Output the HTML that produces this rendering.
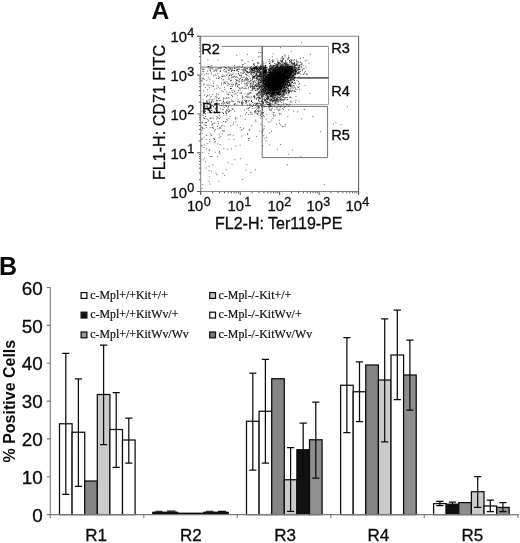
<!DOCTYPE html>
<html lang="en"><head><meta charset="utf-8"><title>Figure</title>
<style>html,body{margin:0;padding:0;background:#fff}svg{display:block}</style></head>
<body>
<svg width="520" height="543" viewBox="0 0 520 543">
<rect width="520" height="543" fill="#fff"/>
<g font-family="'Liberation Sans', Arial, sans-serif" fill="#0a0a0a" stroke="#0a0a0a" stroke-width=".3">
<text x="151.6" y="19" font-size="24.6" font-weight="bold" stroke="none">A</text>
<text x="-0.9" y="274.6" font-size="25" font-weight="bold" stroke="none">B</text>
<g stroke-width="1" fill="none">
<path d="M221.5 46.3H328.6" stroke="#7c7c7c"/>
<path d="M328.5 46.3V104.6" stroke="#a2a2a2"/>
<path d="M262.2 104.6H328.8" stroke="#a6a6a6"/>
<path d="M262.2 77.8H328.4" stroke="#585858" stroke-width="1.2"/>
<path d="M262.2 106.4H327.6V157.6H262.2Z" stroke="#727272"/>
<path d="M200.7 67.2H262.2" stroke="#7c7c7c"/>
<path d="M219 105.4H262.2" stroke="#9a9a9a"/>
</g>
<path d="M276.9 83.0h.9M270.9 77.2h.9M271.0 75.6h.9M282.9 86.7h.9M273.4 76.5h.9M275.4 86.7h.9M269.2 79.8h.9M279.4 84.0h.9M277.6 70.9h.9M274.8 64.2h.9M280.9 68.0h.9M281.6 73.7h.9M273.4 82.5h.9M281.7 62.2h.9M276.0 82.0h.9M278.2 69.5h.9M274.1 72.4h.9M266.3 87.1h.9M280.5 84.6h.9M276.7 77.4h.9M275.1 83.0h.9M280.3 73.4h.9M260.7 86.9h.9M272.5 88.6h.9M289.5 83.7h.9M265.1 83.7h.9M278.3 84.4h.9M279.9 82.8h.9M279.4 83.6h.9M265.6 90.2h.9M271.6 82.0h.9M267.6 79.2h.9M276.2 77.2h.9M278.5 92.1h.9M275.5 69.9h.9M260.8 80.3h.9M276.4 78.4h.9M274.4 93.2h.9M274.2 78.5h.9M285.1 85.0h.9M275.0 78.0h.9M273.1 84.2h.9M269.3 77.0h.9M272.6 80.5h.9M274.5 92.5h.9M279.2 83.9h.9M282.7 82.9h.9M278.6 83.8h.9M282.2 73.8h.9M269.6 63.4h.9M271.0 77.0h.9M287.8 90.3h.9M274.7 74.0h.9M277.3 85.0h.9M274.6 80.1h.9M275.5 88.7h.9M278.7 74.3h.9M268.8 78.9h.9M269.1 81.2h.9M272.5 89.6h.9M271.3 80.8h.9M263.8 74.8h.9M281.7 75.0h.9M288.4 69.3h.9M286.4 71.8h.9M283.0 78.4h.9M265.5 78.1h.9M278.9 95.6h.9M273.8 80.7h.9M270.0 77.8h.9M267.7 88.2h.9M270.6 79.1h.9M270.0 73.4h.9M269.4 90.6h.9M271.5 89.0h.9M275.9 76.0h.9M277.4 78.0h.9M274.8 78.3h.9M275.7 69.5h.9M264.8 91.8h.9M281.2 75.5h.9M261.1 87.5h.9M272.2 78.5h.9M286.3 71.6h.9M275.7 82.1h.9M280.7 78.0h.9M276.4 77.7h.9M272.2 70.2h.9M267.0 90.0h.9M273.8 84.0h.9M273.8 77.2h.9M270.9 85.6h.9M275.9 81.0h.9M274.6 92.6h.9M270.3 83.0h.9M286.1 75.1h.9M270.6 88.5h.9M277.7 88.4h.9M277.4 90.9h.9M285.9 83.5h.9M285.1 75.7h.9M278.4 88.3h.9M276.7 100.3h.9M269.6 68.4h.9M266.0 84.7h.9M280.2 84.6h.9M269.0 63.5h.9M274.4 84.0h.9M276.3 80.4h.9M269.5 71.0h.9M270.0 77.7h.9M284.5 71.8h.9M277.8 82.8h.9M275.1 72.8h.9M273.7 72.0h.9M269.8 80.9h.9M275.8 85.6h.9M259.1 92.2h.9M271.2 88.1h.9M266.6 77.3h.9M281.3 81.0h.9M275.9 81.7h.9M283.1 83.6h.9M262.2 74.9h.9M266.2 70.8h.9M284.5 56.9h.9M270.3 91.8h.9M274.1 70.6h.9M271.7 90.6h.9M274.6 82.2h.9M279.8 84.8h.9M274.3 86.7h.9M282.2 76.1h.9M284.3 80.5h.9M279.2 72.4h.9M267.3 77.7h.9M277.2 99.0h.9M281.5 81.1h.9M258.2 76.4h.9M273.8 83.6h.9M268.4 79.2h.9M275.1 79.5h.9M272.5 91.6h.9M284.2 86.8h.9M275.0 76.8h.9M291.5 73.9h.9M276.9 91.9h.9M273.2 87.2h.9M272.8 82.8h.9M276.3 80.7h.9M272.6 94.7h.9M271.9 79.7h.9M287.1 82.5h.9M273.6 85.9h.9M269.9 76.0h.9M280.6 84.3h.9M275.3 78.5h.9M276.7 80.8h.9M279.9 69.8h.9M283.7 78.6h.9M281.5 78.3h.9M267.4 92.0h.9M278.6 78.3h.9M269.3 78.8h.9M285.3 91.7h.9M274.9 79.5h.9M281.1 75.5h.9M273.4 69.5h.9M264.8 88.4h.9M280.0 94.6h.9M277.4 85.6h.9M266.5 95.4h.9M269.4 73.4h.9M283.8 87.0h.9M265.9 85.9h.9M275.5 74.2h.9M272.8 83.5h.9M276.1 84.5h.9M276.1 79.7h.9M273.9 83.2h.9M284.3 91.6h.9M273.2 86.4h.9M284.0 71.1h.9M274.3 63.5h.9M276.0 90.4h.9M265.6 75.5h.9M272.6 77.2h.9M286.1 93.8h.9M269.7 81.1h.9M279.3 73.4h.9M269.0 77.1h.9M267.9 79.2h.9M277.2 93.4h.9M268.2 88.3h.9M272.4 85.3h.9M274.6 78.1h.9M271.6 68.1h.9M271.0 87.1h.9M280.3 86.7h.9M277.2 67.0h.9M276.8 84.5h.9M282.7 82.5h.9M267.1 79.7h.9M283.5 77.8h.9M262.1 79.3h.9M273.5 93.6h.9M267.7 90.5h.9M269.6 76.3h.9M264.3 99.7h.9M265.2 91.4h.9M264.6 77.9h.9M282.5 82.4h.9M286.3 76.4h.9M267.7 81.1h.9M274.4 76.9h.9M272.2 79.9h.9M276.5 75.1h.9M271.5 70.5h.9M280.6 84.5h.9M281.1 71.0h.9M271.9 74.2h.9M268.8 86.5h.9M264.7 90.3h.9M272.3 84.1h.9M281.5 78.4h.9M279.3 82.8h.9M268.9 78.2h.9M275.9 81.4h.9M266.1 86.0h.9M265.1 76.3h.9M266.2 83.3h.9M281.8 68.8h.9M261.9 85.1h.9M274.9 71.8h.9M281.8 75.1h.9M274.0 73.9h.9M268.4 83.8h.9M267.7 82.0h.9M268.9 67.4h.9M266.1 94.4h.9M274.0 83.7h.9M274.8 83.3h.9M261.6 92.5h.9M275.2 67.6h.9M284.7 74.8h.9M266.3 84.9h.9M278.4 70.9h.9M253.1 83.1h.9M266.7 82.4h.9M264.7 86.1h.9M267.3 75.2h.9M287.1 79.4h.9M269.6 86.6h.9M267.3 69.7h.9M276.5 79.1h.9M274.9 81.1h.9M279.1 73.7h.9M282.9 85.8h.9M267.1 95.0h.9M277.7 76.3h.9M273.1 75.3h.9M269.2 78.3h.9M272.2 86.0h.9M273.1 83.2h.9M272.3 73.8h.9M272.8 78.5h.9M274.2 83.7h.9M280.8 72.4h.9M276.7 70.4h.9M264.0 73.3h.9M275.7 83.1h.9M273.2 79.5h.9M270.8 76.2h.9M272.9 78.3h.9M267.7 78.8h.9M275.1 84.2h.9M273.1 79.6h.9M263.2 80.7h.9M274.8 86.1h.9M276.3 85.3h.9M276.1 76.5h.9M275.2 88.0h.9M265.4 78.7h.9M280.0 89.6h.9M272.6 90.0h.9M286.7 73.8h.9M260.7 72.9h.9M264.9 80.0h.9M276.4 70.6h.9M268.0 90.0h.9M284.5 89.5h.9M268.4 93.2h.9M268.6 76.3h.9M280.3 78.3h.9M274.3 85.2h.9M266.7 86.7h.9M279.7 83.9h.9M279.2 89.6h.9M271.8 83.9h.9M267.8 81.4h.9M284.9 72.0h.9M277.2 82.6h.9M279.5 68.6h.9M272.3 74.9h.9M281.9 64.7h.9M273.9 89.7h.9M277.4 77.6h.9M255.9 78.7h.9M278.8 82.8h.9M282.6 92.3h.9M272.6 91.2h.9M278.6 86.7h.9M277.0 78.0h.9M283.3 94.7h.9M275.5 80.7h.9M282.3 87.7h.9M284.0 86.4h.9M277.8 74.4h.9M280.6 83.1h.9M262.2 84.7h.9M280.7 76.5h.9M268.7 72.4h.9M274.1 91.1h.9M270.4 84.0h.9M269.8 88.7h.9M265.5 87.0h.9M279.7 76.5h.9M281.9 79.1h.9M268.7 80.9h.9M272.8 81.4h.9M267.9 86.6h.9M284.0 82.7h.9M278.4 104.5h.9M276.2 83.1h.9M268.5 92.7h.9M279.6 75.3h.9M268.5 82.6h.9M273.0 65.6h.9M268.1 84.4h.9M277.0 81.7h.9M270.8 85.4h.9M268.0 82.8h.9M270.5 76.1h.9M270.6 90.1h.9M275.9 75.6h.9M280.2 82.6h.9M275.2 67.2h.9M291.6 87.3h.9M270.8 88.5h.9M284.6 93.7h.9M273.9 79.2h.9M273.4 92.3h.9M269.5 85.2h.9M277.9 101.3h.9M277.0 88.2h.9M286.7 69.4h.9M278.5 82.0h.9M270.5 85.8h.9M283.9 71.0h.9M276.1 75.6h.9M275.5 76.6h.9M291.3 69.2h.9M280.8 87.4h.9M267.6 96.3h.9M276.8 66.2h.9M276.8 71.7h.9M263.0 76.2h.9M264.9 79.7h.9M273.4 83.8h.9M275.9 79.5h.9M273.6 76.2h.9M281.5 69.8h.9M279.8 101.6h.9M274.2 93.8h.9M286.3 81.7h.9M275.0 81.4h.9M276.8 80.2h.9M276.3 78.6h.9M277.1 73.0h.9M265.9 98.2h.9M279.2 82.0h.9M265.8 83.6h.9M281.4 83.4h.9M274.8 84.3h.9M265.1 91.0h.9M271.7 80.9h.9M257.8 86.5h.9M274.6 75.5h.9M276.2 88.7h.9M260.4 87.1h.9M270.5 86.5h.9M280.9 78.9h.9M266.4 68.8h.9M267.7 74.6h.9M279.9 78.5h.9M283.4 89.3h.9M266.8 75.7h.9M272.6 73.6h.9M282.4 74.6h.9M265.9 71.1h.9M271.8 86.7h.9M274.4 84.9h.9M272.9 86.7h.9M272.9 92.3h.9M276.1 86.1h.9M279.8 71.0h.9M277.4 80.8h.9M290.1 77.4h.9M267.6 78.9h.9M280.1 68.8h.9M271.2 79.1h.9M271.0 80.6h.9M268.7 83.7h.9M281.1 84.8h.9M259.3 97.3h.9M272.0 76.0h.9M265.3 84.0h.9M276.8 78.4h.9M273.3 71.9h.9M264.5 71.9h.9M278.3 70.3h.9M273.5 82.5h.9M279.2 67.7h.9M275.4 89.5h.9M270.2 78.6h.9M269.3 84.7h.9M274.9 71.0h.9M270.9 93.1h.9M267.8 88.8h.9M268.0 86.9h.9M290.5 88.8h.9M269.2 85.9h.9M277.4 82.4h.9M267.6 89.2h.9M280.2 68.6h.9M275.7 82.5h.9M271.9 92.5h.9M265.5 84.4h.9M284.2 94.9h.9M273.7 88.4h.9M285.1 88.8h.9M278.1 75.0h.9M277.8 87.7h.9M278.7 79.8h.9M276.9 80.4h.9M268.9 77.4h.9M280.4 84.6h.9M277.5 74.3h.9M266.2 83.4h.9M268.2 80.0h.9M284.5 97.5h.9M266.1 95.9h.9M273.0 87.7h.9M283.9 87.6h.9M286.5 75.8h.9M283.7 86.1h.9M270.4 81.2h.9M278.4 86.3h.9M277.9 83.8h.9M264.5 71.5h.9M275.8 90.7h.9M275.0 83.3h.9M268.4 88.0h.9M276.8 76.3h.9M262.3 86.2h.9M266.8 88.6h.9M286.9 78.1h.9M267.8 77.2h.9M282.1 82.4h.9M268.0 89.2h.9M277.8 87.2h.9M279.7 78.5h.9M272.1 80.1h.9M277.4 78.7h.9M271.7 80.4h.9M283.4 82.5h.9M279.6 86.3h.9M274.0 92.5h.9M261.5 95.7h.9M270.1 86.8h.9M278.1 100.8h.9M276.9 64.8h.9M277.3 89.3h.9M271.9 87.1h.9M277.3 87.4h.9M281.5 84.7h.9M287.6 67.7h.9M284.8 77.6h.9M270.8 77.5h.9M268.3 81.8h.9M269.4 70.5h.9M278.2 83.4h.9M270.4 88.9h.9M271.2 89.6h.9M278.9 83.1h.9M269.0 88.5h.9M275.1 79.7h.9M269.5 79.7h.9M268.8 88.1h.9M268.5 82.7h.9M276.1 85.8h.9M288.7 85.4h.9M284.2 90.3h.9M267.5 86.8h.9M279.2 80.6h.9M275.2 82.6h.9M265.5 74.2h.9M262.9 73.3h.9M269.4 82.4h.9M276.6 76.1h.9M265.6 79.4h.9M275.6 66.0h.9M277.3 64.2h.9M262.8 90.1h.9M264.5 82.3h.9M272.1 83.1h.9M278.8 83.4h.9M269.5 95.3h.9M268.9 79.8h.9M271.4 85.4h.9M271.7 87.9h.9M256.7 88.3h.9M281.5 82.7h.9M271.8 77.0h.9M268.0 75.7h.9M289.2 90.6h.9M264.2 86.7h.9M276.1 74.4h.9M266.4 86.6h.9M283.1 79.8h.9M269.6 87.0h.9M270.3 69.0h.9M264.6 69.9h.9M268.5 85.4h.9M284.4 91.4h.9M263.8 86.8h.9M278.7 91.9h.9M272.4 73.6h.9M266.1 76.1h.9M255.2 85.0h.9M277.8 73.2h.9M277.0 80.9h.9M272.8 83.3h.9M258.1 83.4h.9M270.9 79.7h.9M275.9 83.7h.9M274.9 73.4h.9M274.2 88.8h.9M289.9 83.6h.9M257.6 94.0h.9M288.9 92.1h.9M273.4 88.4h.9M272.7 78.8h.9M272.7 78.7h.9M269.9 86.1h.9M269.7 75.0h.9M270.0 78.8h.9M282.0 84.0h.9M276.7 86.2h.9M274.1 84.8h.9M273.8 80.1h.9M265.8 84.0h.9M270.2 91.8h.9M275.1 75.1h.9M278.7 77.6h.9M284.7 80.4h.9M264.7 69.2h.9M266.1 70.4h.9M281.6 85.1h.9M264.7 82.4h.9M288.6 82.1h.9M273.9 84.3h.9M285.6 97.4h.9M271.0 91.8h.9M277.4 86.5h.9M271.2 74.2h.9M269.3 79.4h.9M276.0 81.9h.9M261.1 96.2h.9M274.6 80.6h.9M279.7 88.5h.9M272.2 75.9h.9M276.0 67.2h.9M273.4 86.0h.9M276.9 73.5h.9M278.0 83.8h.9M276.0 76.9h.9M275.3 65.2h.9M255.9 86.7h.9M277.8 80.3h.9M271.8 76.7h.9M275.4 81.5h.9M264.3 75.5h.9M270.7 78.2h.9M278.6 78.8h.9M278.0 89.5h.9M282.5 81.4h.9M277.4 94.1h.9M268.9 91.6h.9M280.7 83.4h.9M281.7 72.8h.9M275.0 77.0h.9M276.6 66.6h.9M280.5 84.7h.9M270.9 88.9h.9M271.0 78.0h.9M272.1 84.1h.9M283.2 91.9h.9M266.4 77.0h.9M269.8 71.2h.9M287.5 77.5h.9M265.3 78.8h.9M280.1 90.7h.9M272.5 77.3h.9M278.1 80.5h.9M279.7 90.4h.9M277.5 94.5h.9M273.8 93.9h.9M280.3 70.6h.9M271.7 83.0h.9M269.5 87.4h.9M287.3 79.9h.9M273.9 87.5h.9M277.9 92.0h.9M259.3 76.7h.9M275.0 75.7h.9M280.1 75.5h.9M267.7 89.1h.9M291.5 80.3h.9M269.6 74.8h.9M276.8 85.1h.9M282.6 79.4h.9M271.6 75.6h.9M279.0 85.7h.9M279.6 78.5h.9M292.2 90.3h.9M286.1 81.3h.9M274.6 81.2h.9M277.7 90.0h.9M272.2 92.2h.9M274.3 76.0h.9M276.6 87.5h.9M272.2 93.4h.9M280.1 94.5h.9M265.7 78.5h.9M271.2 68.9h.9M264.0 90.8h.9M273.9 92.7h.9M274.5 97.5h.9M274.4 80.6h.9M275.9 83.2h.9M277.0 78.1h.9M258.9 88.2h.9M268.8 81.0h.9M279.4 86.0h.9M280.0 84.0h.9M287.8 74.1h.9M281.2 79.6h.9M259.1 75.1h.9M279.4 77.3h.9M270.9 94.1h.9M265.8 79.4h.9M280.3 98.0h.9M273.7 81.5h.9M286.6 73.1h.9M269.0 103.7h.9M273.5 92.8h.9M286.9 79.1h.9M278.7 72.4h.9M279.3 86.8h.9M275.8 86.2h.9M270.4 72.4h.9M270.7 80.2h.9M272.7 68.6h.9M266.1 72.6h.9M270.7 67.1h.9M276.9 84.6h.9M258.5 91.7h.9M283.2 80.0h.9M274.0 79.4h.9M266.6 93.2h.9M271.8 69.5h.9M275.7 85.4h.9M274.6 69.0h.9M276.5 87.7h.9M281.3 79.3h.9M262.4 80.5h.9M278.8 81.1h.9M264.7 71.1h.9M280.7 82.3h.9M256.1 86.4h.9M258.4 97.3h.9M278.8 92.8h.9M272.2 89.6h.9M283.3 75.6h.9M263.0 68.8h.9M268.4 104.6h.9M262.7 92.2h.9M278.9 97.6h.9M269.0 93.1h.9M278.7 72.8h.9M273.6 60.7h.9M268.9 79.5h.9M275.1 80.5h.9M275.4 100.0h.9M282.5 85.5h.9M276.2 75.3h.9M264.3 84.6h.9M268.4 75.8h.9M284.4 88.0h.9M279.4 77.3h.9M271.8 71.9h.9M288.5 77.7h.9M268.9 100.6h.9M282.1 79.1h.9M281.2 82.1h.9M275.7 85.0h.9M269.4 84.5h.9M266.5 73.6h.9M268.4 74.3h.9M270.0 77.9h.9M277.4 84.2h.9M275.8 69.2h.9M283.2 77.6h.9M273.6 97.0h.9M285.2 84.1h.9M289.9 75.8h.9M261.2 68.5h.9M274.3 106.1h.9M280.1 75.1h.9M276.6 80.8h.9M276.8 69.1h.9M274.7 86.1h.9M271.0 90.9h.9M261.8 96.7h.9M262.8 77.8h.9M287.9 77.2h.9M281.9 76.9h.9M269.2 78.2h.9M273.4 77.9h.9M281.5 80.9h.9M269.2 84.9h.9M280.3 76.4h.9M281.6 84.5h.9M269.9 103.8h.9M274.3 81.2h.9M273.1 73.0h.9M276.7 73.5h.9M281.2 81.3h.9M275.5 78.5h.9M289.6 78.4h.9M283.8 91.3h.9M280.9 92.5h.9M280.4 82.5h.9M257.5 97.6h.9M280.7 95.9h.9M278.1 87.5h.9M266.2 89.1h.9M268.3 82.2h.9M274.1 75.0h.9M276.6 81.4h.9M264.8 80.7h.9M274.3 100.4h.9M270.1 86.2h.9M278.8 83.1h.9M263.3 79.6h.9M289.9 97.0h.9M288.5 71.6h.9M273.0 84.4h.9M262.5 88.3h.9M283.4 88.0h.9M273.4 79.2h.9M272.0 81.4h.9M263.5 90.5h.9M264.1 84.4h.9M271.9 86.6h.9M285.4 62.8h.9M276.7 72.6h.9M262.2 89.8h.9M288.1 78.8h.9M284.1 87.9h.9M268.5 81.5h.9M282.9 85.5h.9M271.4 89.0h.9M274.3 82.0h.9M289.2 84.0h.9M268.2 78.4h.9M281.5 80.8h.9M271.8 86.3h.9M277.9 77.1h.9M273.9 65.4h.9M269.1 86.4h.9M281.1 88.8h.9M272.7 86.9h.9M270.8 99.9h.9M281.0 81.8h.9M268.3 82.2h.9M273.9 82.0h.9M281.9 66.9h.9M273.6 78.5h.9M279.5 68.7h.9M275.9 82.0h.9M283.5 75.6h.9M278.6 72.3h.9M265.8 89.4h.9M283.7 81.7h.9M274.9 78.2h.9M280.7 87.1h.9M278.8 63.0h.9M272.5 71.0h.9M273.4 72.9h.9M268.6 81.3h.9M277.1 84.2h.9M278.8 77.0h.9M270.6 95.1h.9M277.3 77.1h.9M280.4 76.1h.9M266.8 85.7h.9M282.7 84.1h.9M278.2 78.9h.9M274.2 71.8h.9M290.1 85.1h.9M273.6 77.4h.9M276.3 77.4h.9M273.7 87.3h.9M268.5 97.5h.9M271.2 93.3h.9M264.3 81.8h.9M275.2 80.9h.9M263.3 73.4h.9M269.5 87.1h.9M275.3 78.0h.9M278.4 81.6h.9M274.5 69.9h.9M274.9 84.6h.9M273.2 77.5h.9M278.0 75.8h.9M264.3 87.2h.9M274.3 95.7h.9M281.5 81.2h.9M270.5 65.9h.9M277.7 71.4h.9M273.4 78.0h.9M262.1 75.9h.9M264.8 81.1h.9M275.3 75.9h.9M271.5 69.3h.9M279.0 74.7h.9M276.2 88.0h.9M274.3 72.3h.9M281.4 76.8h.9M290.3 71.2h.9M272.4 76.0h.9M280.0 87.7h.9M280.1 87.8h.9M281.9 86.9h.9M269.8 90.7h.9M270.6 92.9h.9M269.4 79.7h.9M280.9 82.4h.9M284.1 74.6h.9M275.5 85.4h.9M283.0 65.8h.9M268.1 84.3h.9M260.7 75.1h.9M268.6 84.7h.9M260.9 82.4h.9M271.1 86.2h.9M266.5 84.9h.9M290.8 84.7h.9M274.2 73.8h.9M270.2 76.8h.9M280.8 96.1h.9M267.6 71.5h.9M277.2 94.0h.9M278.8 91.6h.9M277.5 75.2h.9M272.1 67.5h.9M267.4 86.9h.9M266.8 98.7h.9M282.3 79.9h.9M271.1 96.5h.9M282.0 74.4h.9M266.9 90.3h.9M284.2 79.6h.9M268.1 79.5h.9M272.1 76.9h.9M274.7 84.5h.9M274.9 92.5h.9M283.6 72.0h.9M274.4 89.9h.9M267.9 87.7h.9M284.3 78.1h.9M266.5 67.5h.9M266.9 87.1h.9M268.0 75.4h.9M273.4 68.8h.9M278.7 80.6h.9M288.5 67.8h.9M273.4 70.1h.9M272.1 86.6h.9M292.0 76.8h.9M279.9 76.6h.9M282.7 87.9h.9M282.9 81.9h.9M284.7 80.2h.9M275.9 75.4h.9M269.7 96.7h.9M288.0 89.9h.9M268.9 82.0h.9M265.3 83.5h.9M277.9 94.0h.9M273.6 75.9h.9M274.6 83.3h.9M282.3 76.8h.9M280.5 65.9h.9M275.1 78.2h.9M266.7 80.3h.9M271.8 85.7h.9M269.6 73.0h.9M281.8 74.6h.9M279.2 75.3h.9M277.2 92.9h.9M267.4 92.3h.9M285.4 77.4h.9M280.6 87.8h.9M282.2 85.9h.9M276.1 90.4h.9M275.6 86.9h.9M275.6 84.4h.9M268.3 87.5h.9M267.8 94.2h.9M270.8 88.8h.9M288.1 86.7h.9M268.8 75.7h.9M276.0 75.8h.9M268.1 98.2h.9M265.6 85.6h.9M277.8 86.7h.9M264.1 92.8h.9M274.6 87.3h.9M279.0 74.6h.9M262.4 72.7h.9M276.0 88.0h.9M268.9 74.6h.9M271.0 93.5h.9M279.6 93.8h.9M282.0 80.8h.9M275.7 80.1h.9M275.5 81.4h.9M271.6 90.4h.9M274.1 80.0h.9M268.5 81.6h.9M276.8 78.2h.9M276.6 77.5h.9M289.4 84.0h.9M272.7 93.0h.9M288.3 88.6h.9M273.4 84.1h.9M275.8 85.2h.9M269.6 92.1h.9M261.8 94.3h.9M266.5 83.8h.9M266.2 94.0h.9M280.9 84.5h.9M263.7 87.5h.9M268.2 75.1h.9M274.0 82.7h.9M272.4 77.3h.9M272.2 76.9h.9M282.1 90.6h.9M281.9 67.7h.9M279.7 80.5h.9M278.0 74.7h.9M283.3 76.7h.9M273.8 82.2h.9M272.3 83.9h.9M284.7 72.7h.9M273.1 83.6h.9M278.6 93.0h.9M274.7 71.7h.9M277.6 97.7h.9M271.0 72.9h.9M274.7 75.8h.9M281.4 70.7h.9M272.9 68.9h.9M267.6 86.4h.9M279.2 83.5h.9M270.0 86.8h.9M270.1 79.7h.9M272.3 96.7h.9M279.4 74.1h.9M275.2 88.7h.9M276.2 99.5h.9M276.7 77.8h.9M281.6 73.6h.9M290.6 91.7h.9M262.4 76.1h.9M278.4 77.5h.9M274.9 70.2h.9M278.6 80.4h.9M270.5 78.0h.9M268.9 86.0h.9M268.9 74.0h.9M282.0 78.4h.9M281.0 70.1h.9M270.1 86.0h.9M267.6 80.2h.9M276.6 94.9h.9M263.8 78.1h.9M285.0 77.6h.9M270.3 95.3h.9M266.7 89.1h.9M275.9 80.6h.9M264.5 80.2h.9M279.4 93.0h.9M271.5 69.4h.9M269.9 82.5h.9M289.1 67.5h.9M271.7 81.6h.9M267.8 97.7h.9M278.7 76.9h.9M274.6 72.1h.9M270.4 83.0h.9M286.8 84.0h.9M276.6 90.7h.9M276.0 87.3h.9M269.4 92.4h.9M262.4 92.4h.9M268.0 75.8h.9M279.5 81.2h.9M265.6 90.4h.9M273.0 80.9h.9M270.9 72.9h.9M264.7 76.9h.9M274.8 82.9h.9M271.7 74.1h.9M291.6 78.0h.9M289.6 77.3h.9M270.7 85.2h.9M285.8 77.0h.9M262.9 91.5h.9M282.5 83.2h.9M285.7 90.8h.9M280.6 79.6h.9M292.4 79.6h.9M264.9 69.7h.9M274.8 80.7h.9M265.8 94.7h.9M278.7 83.8h.9M268.7 93.2h.9M274.2 91.1h.9M276.8 80.1h.9M269.6 79.3h.9M262.3 86.4h.9M276.3 93.5h.9M271.0 78.9h.9M278.8 81.9h.9M274.0 88.3h.9M268.0 87.4h.9M265.0 78.7h.9M273.1 88.0h.9M283.6 82.7h.9M255.8 78.1h.9M266.4 77.7h.9M285.8 97.6h.9M277.6 78.5h.9M278.2 81.3h.9M280.3 90.7h.9M288.3 79.9h.9M280.4 76.2h.9M274.9 92.6h.9M274.6 73.0h.9M276.6 78.5h.9M263.1 86.2h.9M277.0 87.3h.9M275.8 87.5h.9M272.2 94.5h.9M275.2 90.0h.9M257.0 88.9h.9M268.7 90.4h.9M270.5 76.9h.9M280.1 67.3h.9M280.7 78.6h.9M289.3 75.9h.9M272.6 83.2h.9M273.2 74.4h.9M276.3 72.1h.9M274.1 81.5h.9M279.0 71.0h.9M279.5 76.1h.9M271.7 97.4h.9M266.7 74.6h.9M270.6 66.5h.9M267.8 84.8h.9M271.2 80.5h.9M283.1 87.1h.9M275.8 76.0h.9M283.4 79.0h.9M272.4 71.0h.9M272.2 67.5h.9M288.6 93.5h.9M284.6 77.8h.9M267.7 80.3h.9M274.8 79.3h.9M289.3 83.1h.9M284.8 69.5h.9M270.4 82.6h.9M279.8 85.9h.9M277.0 84.4h.9M260.4 80.5h.9M283.0 99.9h.9M277.4 92.3h.9M279.9 71.5h.9M274.8 74.3h.9M266.7 86.4h.9M264.3 75.0h.9M276.3 81.1h.9M273.6 74.6h.9M260.7 91.8h.9M274.4 71.9h.9M283.0 97.3h.9M269.6 82.1h.9M283.1 82.3h.9M287.3 80.0h.9M270.1 92.4h.9M277.1 89.0h.9M262.9 89.9h.9M268.4 89.3h.9M278.7 76.8h.9M270.1 77.3h.9M275.7 67.5h.9M281.2 98.7h.9M279.7 90.4h.9M276.7 78.0h.9M267.7 80.6h.9M279.5 75.2h.9M270.1 76.3h.9M272.1 84.0h.9M271.2 89.3h.9M277.1 80.2h.9M271.9 78.6h.9M281.1 81.5h.9M280.3 90.7h.9M279.4 68.6h.9M277.8 79.6h.9M273.9 77.1h.9M273.2 88.2h.9M287.6 77.8h.9M267.9 87.4h.9M267.6 85.7h.9M269.5 89.4h.9M276.0 75.0h.9M279.2 77.1h.9M274.7 83.4h.9M255.6 66.4h.9M263.6 76.7h.9M280.9 87.3h.9M271.8 82.7h.9M275.1 80.3h.9M273.8 76.2h.9M285.8 79.1h.9M280.9 84.9h.9M276.5 80.4h.9M278.6 82.2h.9M273.4 88.7h.9M273.1 74.7h.9M267.1 93.1h.9M285.0 84.5h.9M274.1 91.5h.9M290.6 86.6h.9M276.9 86.6h.9M267.4 76.3h.9M282.7 73.7h.9M272.2 84.1h.9M271.1 69.0h.9M267.8 75.0h.9M278.5 92.1h.9M269.4 105.2h.9M272.3 75.0h.9M284.9 55.2h.9M281.6 83.8h.9M276.3 88.3h.9M278.2 85.6h.9M263.3 89.1h.9M268.7 74.3h.9M276.6 97.8h.9M265.1 83.6h.9M273.1 82.5h.9M273.7 82.0h.9M270.8 84.5h.9M273.3 88.9h.9M275.6 79.5h.9M281.7 81.4h.9M277.9 81.0h.9M267.9 74.5h.9M265.4 85.2h.9M275.0 88.2h.9M275.9 67.1h.9M272.3 75.7h.9M284.1 75.8h.9M278.4 81.5h.9M278.6 79.9h.9M277.9 76.5h.9M273.2 86.3h.9M270.5 75.3h.9M276.5 84.3h.9M271.6 77.7h.9M287.8 93.8h.9M278.3 80.9h.9M258.5 76.6h.9M270.5 80.7h.9M268.3 91.2h.9M276.9 75.7h.9M271.2 81.4h.9M267.3 77.3h.9M280.6 82.8h.9M271.7 98.4h.9M281.1 87.7h.9M281.1 94.6h.9M270.3 89.4h.9M275.2 84.4h.9M275.2 84.8h.9M265.7 69.7h.9M265.7 70.7h.9M274.9 82.5h.9M285.7 72.1h.9M272.4 88.6h.9M279.8 100.0h.9M285.9 76.6h.9M275.9 86.5h.9M267.3 86.5h.9M272.5 75.1h.9M277.5 76.2h.9M274.6 68.2h.9M272.5 85.9h.9M262.5 78.8h.9M274.9 74.6h.9M271.5 80.4h.9M271.2 88.5h.9M275.2 82.2h.9M269.6 85.6h.9M273.5 91.5h.9M274.8 83.2h.9M279.2 89.0h.9M273.7 90.0h.9M272.5 88.7h.9M270.2 90.9h.9M291.1 71.3h.9M267.8 79.1h.9M270.7 77.8h.9M270.0 98.7h.9M284.4 72.4h.9M288.0 85.2h.9M265.9 67.3h.9M272.8 81.4h.9M264.1 72.2h.9M283.4 90.4h.9M289.5 72.0h.9M291.3 85.4h.9M272.4 84.5h.9M274.0 91.6h.9M281.6 80.0h.9M266.5 72.6h.9M265.2 95.5h.9M279.5 78.7h.9M273.1 66.5h.9M274.0 76.8h.9M281.5 86.1h.9M279.9 80.1h.9M266.4 82.9h.9M268.7 80.7h.9M273.7 91.1h.9M267.1 77.9h.9M270.2 80.4h.9M271.7 86.7h.9M283.8 79.1h.9M268.9 85.3h.9M268.9 89.4h.9M277.1 80.2h.9M275.4 75.2h.9M284.8 85.7h.9M267.8 92.0h.9M268.7 93.5h.9M278.9 87.5h.9M288.3 91.8h.9M267.1 80.0h.9M267.7 90.1h.9M258.6 70.3h.9M276.1 91.8h.9M277.9 90.9h.9M268.4 94.0h.9M267.1 86.4h.9M282.8 82.8h.9M265.7 80.6h.9M272.7 84.0h.9M280.9 77.5h.9M267.4 74.1h.9M289.9 79.6h.9M282.3 71.8h.9M276.6 88.4h.9M278.0 72.1h.9M279.3 85.6h.9M270.7 73.7h.9M277.8 92.7h.9M270.1 82.7h.9M274.2 85.3h.9M264.5 84.1h.9M273.8 82.3h.9M280.7 74.7h.9M272.6 81.0h.9M265.2 80.4h.9M277.9 83.0h.9M280.4 87.5h.9M270.8 68.6h.9M276.9 85.2h.9M270.6 99.2h.9M283.3 78.3h.9M269.6 71.2h.9M267.0 101.8h.9M275.7 88.9h.9M269.8 96.0h.9M264.4 87.5h.9M289.0 76.5h.9M272.5 94.2h.9M275.3 84.2h.9M286.9 81.9h.9M275.6 88.4h.9M279.9 88.0h.9M277.6 88.0h.9M282.7 75.2h.9M263.6 96.1h.9M280.9 83.9h.9M275.2 90.9h.9M284.4 71.9h.9M274.8 70.9h.9M271.3 85.0h.9M290.7 97.8h.9M276.4 89.9h.9M274.8 73.5h.9M276.1 72.6h.9M275.5 72.0h.9M270.0 77.3h.9M272.6 67.5h.9M273.8 85.5h.9M277.4 92.7h.9M280.4 81.7h.9M294.2 78.9h.9M269.3 89.9h.9M281.9 74.8h.9M277.7 66.1h.9M272.7 87.6h.9M282.7 81.5h.9M280.8 75.4h.9M272.0 75.7h.9M267.5 82.2h.9M264.3 93.9h.9M261.0 92.9h.9M265.7 82.6h.9M281.3 72.8h.9M265.0 82.8h.9M265.9 88.0h.9M276.9 84.2h.9M262.2 80.6h.9M272.2 95.4h.9M270.7 75.7h.9M273.6 65.5h.9M271.0 84.8h.9M276.4 72.2h.9M267.2 92.2h.9M285.4 82.1h.9M273.6 85.5h.9M268.3 72.7h.9M276.8 72.0h.9M278.1 81.5h.9M274.3 86.7h.9M268.3 80.4h.9M280.4 64.8h.9M275.0 73.1h.9M268.8 76.1h.9M278.8 73.7h.9M270.8 80.8h.9M271.9 84.9h.9M279.3 74.8h.9M263.9 93.4h.9M278.8 94.8h.9M264.5 90.2h.9M268.1 96.9h.9M274.8 79.4h.9M273.1 86.5h.9M283.4 84.8h.9M271.8 73.5h.9M276.3 89.9h.9M264.6 86.5h.9M273.8 91.3h.9M261.0 90.7h.9M272.7 82.7h.9M277.0 68.3h.9M268.0 88.6h.9M283.1 79.5h.9M277.2 92.3h.9M277.9 76.1h.9M267.3 87.3h.9M282.9 79.2h.9M262.3 89.6h.9M276.6 58.7h.9M278.2 74.3h.9M271.9 86.0h.9M278.8 77.4h.9M278.6 74.9h.9M293.5 85.9h.9M267.1 85.2h.9M276.4 73.4h.9M277.2 67.8h.9M283.2 79.5h.9M272.1 76.4h.9M273.3 68.6h.9M274.1 80.8h.9M267.0 88.2h.9M272.6 90.4h.9M263.3 75.6h.9M284.5 75.1h.9M271.0 92.7h.9M269.8 86.2h.9M272.7 77.2h.9M273.4 90.1h.9M274.1 79.3h.9M274.9 87.0h.9M288.5 81.4h.9M274.2 83.9h.9M275.5 95.9h.9M278.7 83.1h.9M275.5 72.3h.9M291.1 69.6h.9M286.5 70.5h.9M272.6 72.9h.9M277.5 81.4h.9M283.3 92.0h.9M279.0 87.4h.9M281.7 80.0h.9M271.8 81.6h.9M275.2 81.1h.9M276.8 84.7h.9M272.7 76.0h.9M262.2 82.0h.9M286.7 82.5h.9M281.5 60.3h.9M262.7 81.7h.9M249.8 92.5h.9M278.8 97.3h.9M270.3 87.9h.9M268.5 81.7h.9M265.4 84.3h.9M282.1 83.2h.9M277.3 72.8h.9M266.6 78.9h.9M272.7 91.5h.9M280.7 70.9h.9M274.2 74.3h.9M270.6 80.3h.9M267.3 86.7h.9M271.1 88.9h.9M268.6 86.5h.9M270.3 74.7h.9M278.5 89.1h.9M274.6 101.4h.9M272.9 83.1h.9M273.5 84.7h.9M275.1 95.5h.9M274.3 73.8h.9M271.7 92.8h.9M283.1 84.1h.9M275.0 78.3h.9M265.3 72.5h.9M264.7 84.4h.9M272.9 75.5h.9M271.9 87.0h.9M265.1 76.8h.9M266.7 76.7h.9M276.1 85.4h.9M287.3 88.4h.9M276.6 87.7h.9M273.5 82.4h.9M278.0 92.5h.9M286.4 76.0h.9M278.9 88.8h.9M266.0 81.4h.9M290.5 79.3h.9M265.8 79.3h.9M271.7 83.4h.9M268.7 61.5h.9M282.9 71.3h.9M273.9 80.9h.9M277.6 86.0h.9M281.5 65.9h.9M271.0 72.1h.9M276.5 77.7h.9M267.6 75.5h.9M289.0 84.9h.9M269.2 69.0h.9M277.6 85.9h.9M266.7 81.8h.9M266.6 86.7h.9M275.9 71.9h.9M279.8 83.5h.9M272.6 86.4h.9M272.0 89.0h.9M263.4 84.0h.9M285.8 73.1h.9M278.7 71.0h.9M272.6 79.7h.9M285.2 83.1h.9M290.1 66.6h.9M266.4 98.6h.9M279.5 84.2h.9M261.1 91.4h.9M273.7 82.0h.9M273.9 86.5h.9M270.1 85.4h.9M271.0 80.2h.9M276.9 76.8h.9M268.7 77.3h.9M268.3 92.9h.9M287.0 75.5h.9M281.0 78.2h.9M276.7 82.7h.9M271.1 81.4h.9M287.0 88.7h.9M284.2 66.1h.9M267.2 81.8h.9M293.2 79.0h.9M288.9 85.9h.9M273.5 86.1h.9M277.1 87.4h.9M273.2 91.9h.9M275.6 83.6h.9M274.8 94.3h.9M275.2 72.8h.9M270.2 82.4h.9M270.9 76.3h.9M278.7 81.5h.9M271.4 89.2h.9M266.7 96.7h.9M268.8 108.2h.9M270.3 84.0h.9M285.1 61.2h.9M285.9 89.4h.9M291.8 78.1h.9M280.4 82.5h.9M285.8 64.1h.9M280.5 81.7h.9M268.0 79.0h.9M275.6 91.0h.9M278.8 89.5h.9M270.8 89.9h.9M272.2 67.8h.9M274.2 94.0h.9M272.2 81.4h.9M275.2 82.3h.9M272.3 77.4h.9M268.2 98.3h.9M269.8 73.5h.9M282.2 79.1h.9M270.9 86.8h.9M273.1 81.4h.9M287.1 78.1h.9M288.4 92.5h.9M277.3 76.1h.9M270.3 87.6h.9M274.9 69.0h.9M276.8 83.8h.9M281.5 84.5h.9M273.2 90.2h.9M273.5 81.4h.9M278.5 88.9h.9M277.6 83.9h.9M268.0 75.2h.9M283.5 77.2h.9M282.9 90.3h.9M280.1 85.1h.9M275.9 94.7h.9M276.4 77.0h.9M268.8 79.8h.9M279.4 88.7h.9M288.7 84.8h.9M275.1 79.3h.9M271.9 78.0h.9M273.7 85.1h.9M272.3 95.9h.9M271.8 85.2h.9M280.1 71.5h.9M284.1 78.9h.9M285.1 87.1h.9M277.3 89.9h.9M275.5 84.3h.9M278.1 89.6h.9M280.8 78.4h.9M264.5 100.6h.9M272.0 78.0h.9M287.8 75.3h.9M276.7 83.4h.9M282.9 103.3h.9M284.8 78.9h.9M275.1 87.8h.9M273.2 85.4h.9M272.7 95.4h.9M281.2 88.5h.9M274.4 89.9h.9M284.3 90.0h.9M272.7 85.4h.9M276.4 74.8h.9M279.8 74.8h.9M262.0 77.4h.9M278.9 84.2h.9M268.9 80.2h.9M266.1 89.0h.9M273.5 69.7h.9M281.0 85.0h.9M271.9 91.1h.9M275.9 71.3h.9M277.6 75.0h.9M282.7 69.6h.9M271.8 86.2h.9M267.8 82.4h.9M277.0 69.5h.9M276.8 93.6h.9M284.0 82.5h.9M285.4 84.5h.9M270.6 84.1h.9M267.5 85.3h.9M270.2 70.7h.9M273.8 83.7h.9M273.0 80.1h.9M267.1 91.0h.9M285.3 80.7h.9M271.7 93.3h.9M278.3 67.6h.9M272.9 86.5h.9M261.1 88.9h.9M268.8 84.9h.9M269.6 91.3h.9M267.3 87.4h.9M274.0 68.3h.9M271.4 74.4h.9M278.5 94.9h.9M268.0 80.7h.9M271.5 79.0h.9M271.4 93.5h.9M270.9 84.3h.9M278.3 65.1h.9M281.7 75.1h.9M270.0 80.2h.9M285.9 84.2h.9M273.4 72.2h.9M271.9 78.1h.9M280.0 80.6h.9M257.9 88.8h.9M275.5 82.0h.9M274.4 80.8h.9M282.4 82.7h.9M276.2 78.2h.9M275.8 82.3h.9M281.7 83.9h.9M276.2 82.5h.9M269.4 78.4h.9M272.1 72.7h.9M270.2 81.1h.9M280.7 75.1h.9M262.7 80.2h.9M268.8 94.3h.9M281.9 84.6h.9M271.3 80.6h.9M260.3 94.4h.9M280.5 84.0h.9M278.7 74.0h.9M287.9 92.4h.9M278.3 75.4h.9M273.1 87.0h.9M282.2 74.6h.9M277.4 84.2h.9M276.8 93.4h.9M275.4 85.9h.9M278.6 73.7h.9M271.9 82.3h.9M269.9 80.1h.9M282.0 99.9h.9M279.0 80.5h.9M283.5 84.3h.9M273.9 85.4h.9M276.8 80.8h.9M283.0 76.9h.9M281.1 78.6h.9M281.1 86.4h.9M281.3 85.1h.9M282.3 77.3h.9M277.2 81.0h.9M280.4 85.5h.9M284.9 68.5h.9M288.1 75.1h.9M276.8 64.6h.9M291.3 75.1h.9M280.8 73.1h.9M266.6 72.4h.9M280.4 81.7h.9M281.4 83.7h.9M276.6 79.4h.9M278.7 80.3h.9M270.0 96.8h.9M270.7 81.4h.9M286.7 81.2h.9M274.0 71.1h.9M273.0 79.9h.9M253.6 88.6h.9M278.0 86.9h.9M275.7 71.9h.9M283.1 90.3h.9M269.3 70.4h.9M280.4 93.8h.9M263.3 72.6h.9M268.4 91.8h.9M270.6 90.0h.9M273.9 77.9h.9M278.0 97.2h.9M277.8 63.6h.9M266.1 93.6h.9M280.4 72.2h.9M275.0 80.9h.9M275.2 77.6h.9M278.9 79.8h.9M276.6 75.2h.9M283.4 85.1h.9M273.1 84.3h.9M275.5 87.2h.9M274.0 91.4h.9M276.2 99.2h.9M272.9 80.4h.9M274.8 90.0h.9M266.8 76.6h.9M284.3 69.9h.9M276.9 90.1h.9M286.3 76.0h.9M279.5 79.4h.9M268.8 82.5h.9M265.1 71.2h.9M268.0 69.7h.9M273.8 85.3h.9M273.7 89.7h.9M279.7 78.5h.9M280.3 81.1h.9M268.1 81.1h.9M275.5 82.2h.9M281.6 82.6h.9M266.4 93.2h.9M263.2 72.3h.9M273.1 79.7h.9M285.2 67.3h.9M268.5 83.9h.9M270.9 76.2h.9M263.2 82.7h.9M287.9 85.9h.9M277.7 83.9h.9M268.8 77.2h.9M277.7 83.1h.9M281.1 75.7h.9M276.7 94.4h.9M275.5 67.5h.9M287.7 73.8h.9M277.0 88.6h.9M271.6 72.0h.9M275.5 82.9h.9M279.3 76.3h.9M274.0 87.4h.9M266.6 67.8h.9M277.1 80.7h.9M273.6 78.8h.9M282.1 79.3h.9M276.1 82.0h.9M275.2 73.0h.9M268.6 80.0h.9M278.1 71.9h.9M271.6 91.3h.9M268.7 92.1h.9M268.1 75.3h.9M285.9 82.4h.9M278.2 86.7h.9M272.4 87.1h.9M276.6 80.9h.9M275.3 88.3h.9M274.2 86.0h.9M276.6 75.6h.9M284.7 78.4h.9M282.0 66.2h.9M263.9 98.1h.9M279.4 73.8h.9M269.2 90.8h.9M273.4 86.7h.9M295.3 89.3h.9M271.7 80.8h.9M279.3 79.7h.9M278.1 87.4h.9M266.1 78.5h.9M271.3 84.9h.9M267.5 75.2h.9M273.1 75.6h.9M266.7 77.1h.9M275.7 82.8h.9M275.8 71.9h.9M283.8 78.7h.9M282.9 62.7h.9M279.0 68.7h.9M268.1 86.1h.9M269.6 80.3h.9M273.1 98.9h.9M262.9 85.9h.9M285.8 77.5h.9M274.4 79.8h.9M266.4 80.4h.9M272.3 87.6h.9M269.3 83.3h.9M269.0 83.5h.9M278.2 92.5h.9M274.7 90.2h.9M256.7 78.0h.9M270.3 87.1h.9M273.1 81.8h.9M277.3 70.3h.9M281.0 91.2h.9M272.2 74.6h.9M264.3 89.7h.9M267.5 97.1h.9M284.4 78.8h.9M260.1 89.7h.9M267.5 92.3h.9M267.2 91.5h.9M284.2 72.2h.9M284.0 95.3h.9M272.6 96.6h.9M273.0 78.6h.9M271.4 77.2h.9M261.1 72.0h.9M274.3 83.2h.9M269.8 102.9h.9M280.3 80.3h.9M276.3 71.3h.9M290.9 73.1h.9M265.9 82.5h.9M281.0 84.6h.9M275.5 86.8h.9M274.7 73.8h.9M280.2 85.6h.9M271.7 72.5h.9M265.2 87.3h.9M272.4 90.5h.9M282.1 93.9h.9M277.1 89.4h.9M274.6 73.2h.9M281.8 91.5h.9M283.5 99.4h.9M275.2 84.9h.9M271.4 89.3h.9M269.2 78.2h.9M265.0 85.7h.9M264.8 81.2h.9M264.8 86.6h.9M262.5 83.0h.9M283.8 82.6h.9M278.7 76.4h.9M263.3 71.2h.9M276.5 85.6h.9M282.8 75.8h.9M272.3 73.1h.9M271.1 79.9h.9M257.1 93.6h.9M278.2 90.5h.9M272.5 62.2h.9M270.1 84.5h.9M280.4 88.4h.9M270.3 75.9h.9M286.9 63.0h.9M280.6 76.3h.9M266.1 79.3h.9M274.9 97.9h.9M264.9 84.4h.9M273.5 77.3h.9M270.1 75.4h.9M274.8 85.9h.9M270.7 83.0h.9M271.3 91.9h.9M281.9 60.2h.9M281.1 84.7h.9M274.8 79.0h.9M281.7 79.3h.9M273.3 76.9h.9M281.3 78.4h.9M267.3 72.8h.9M268.6 84.3h.9M276.0 85.8h.9M276.7 94.0h.9M276.4 77.3h.9M290.1 78.0h.9M281.7 89.6h.9M264.2 73.2h.9M269.8 93.3h.9M275.0 83.1h.9M275.8 88.3h.9M287.7 74.0h.9M274.4 76.7h.9M273.9 97.4h.9M265.5 73.7h.9M277.7 84.9h.9M268.1 77.5h.9M270.8 72.3h.9M279.2 86.2h.9M266.9 87.1h.9M277.5 85.5h.9M276.2 77.8h.9M268.2 98.0h.9M269.2 87.0h.9M264.8 76.9h.9M282.3 85.6h.9M274.1 100.9h.9M272.8 87.1h.9M276.5 77.2h.9M268.1 83.9h.9M265.7 85.6h.9M276.0 66.0h.9M273.4 65.6h.9M269.6 89.5h.9M281.2 87.2h.9M267.3 89.5h.9M272.3 92.8h.9M277.8 83.4h.9M276.0 69.2h.9M279.2 83.2h.9M275.8 78.9h.9M279.8 93.5h.9M279.7 91.6h.9M274.9 78.1h.9M272.1 83.3h.9M286.9 83.6h.9M270.2 77.5h.9M284.1 91.3h.9M282.1 86.5h.9M273.9 77.3h.9M277.0 76.6h.9M261.2 91.6h.9M262.9 90.6h.9M281.0 83.0h.9M274.4 87.4h.9M283.7 71.3h.9M294.3 82.8h.9M277.1 81.1h.9M276.7 72.2h.9M285.9 75.8h.9M279.5 81.9h.9M274.8 75.5h.9M264.4 88.2h.9M284.5 70.3h.9M276.9 72.4h.9M266.8 86.0h.9M267.7 86.2h.9M277.3 96.9h.9M275.7 77.9h.9M279.5 76.6h.9M262.1 85.7h.9M263.8 84.4h.9M267.9 70.1h.9M267.4 97.4h.9M270.2 81.6h.9M258.6 83.0h.9M288.1 89.2h.9M276.7 79.3h.9M267.7 84.3h.9M280.8 85.2h.9M276.6 84.6h.9M278.4 80.5h.9M283.6 87.0h.9M270.9 86.4h.9M288.8 66.6h.9M266.8 84.5h.9M276.1 64.0h.9M265.3 85.3h.9M278.2 79.4h.9M270.3 90.8h.9M272.3 79.5h.9M275.2 97.1h.9M267.2 76.9h.9M281.6 78.1h.9M283.2 79.6h.9M275.5 85.5h.9M275.6 88.3h.9M276.5 74.8h.9M259.0 95.0h.9M283.3 82.0h.9M271.0 78.3h.9M283.4 74.2h.9M279.5 93.8h.9M281.1 85.7h.9M280.1 75.1h.9M278.8 77.7h.9M278.6 90.8h.9M286.5 78.9h.9M270.9 75.3h.9M267.1 76.1h.9M276.8 83.0h.9M279.1 82.3h.9M276.4 79.7h.9M281.0 71.8h.9M275.8 74.4h.9M276.6 81.9h.9M272.2 65.2h.9M279.1 81.3h.9M279.1 87.4h.9M273.1 93.0h.9M269.1 78.6h.9M276.0 73.7h.9M275.4 84.6h.9M274.2 81.5h.9M274.0 87.2h.9M275.8 85.1h.9M271.1 74.8h.9M275.7 86.9h.9M273.5 79.1h.9M261.9 96.0h.9M277.6 81.3h.9M280.3 74.1h.9M273.8 97.9h.9M276.2 88.4h.9M280.4 85.8h.9M273.2 79.5h.9M280.1 85.6h.9M277.9 86.5h.9M290.0 71.2h.9M274.0 103.1h.9M271.3 77.0h.9M268.2 80.9h.9M269.2 85.6h.9M279.5 93.2h.9M284.7 68.3h.9M269.5 72.5h.9M276.2 76.9h.9M262.1 84.6h.9M283.1 96.0h.9M276.1 88.0h.9M268.2 78.2h.9M275.4 87.1h.9M287.6 95.4h.9M274.9 88.6h.9M261.2 89.0h.9M277.3 72.6h.9M281.8 79.5h.9M286.7 85.2h.9M273.8 95.4h.9M280.3 81.2h.9M265.7 84.5h.9M278.0 86.8h.9M283.6 88.5h.9M265.6 88.1h.9M269.7 80.2h.9M267.8 83.4h.9M273.9 89.9h.9M270.5 88.5h.9M291.2 77.1h.9M284.0 85.1h.9M277.5 87.2h.9M270.1 96.3h.9M261.0 87.4h.9M270.4 87.5h.9M275.7 81.1h.9M283.6 89.8h.9M282.6 68.8h.9M284.8 80.5h.9M279.5 80.4h.9M280.6 81.3h.9M268.9 88.1h.9M266.5 77.8h.9M279.0 86.9h.9M283.9 81.6h.9M272.2 61.2h.9M277.6 70.5h.9M274.6 81.9h.9M279.7 83.8h.9M269.5 74.6h.9M292.5 79.7h.9M283.2 64.5h.9M272.4 94.0h.9M278.4 76.0h.9M279.0 92.1h.9M283.1 77.9h.9M280.7 87.3h.9M267.8 90.9h.9M283.1 72.8h.9M272.4 97.0h.9M288.5 91.3h.9M284.5 77.4h.9M277.6 78.0h.9M283.8 87.5h.9M275.6 73.6h.9M284.2 72.1h.9M279.4 80.0h.9M277.2 73.1h.9M270.1 88.9h.9M275.9 88.2h.9M267.3 74.5h.9M272.4 89.6h.9M259.4 82.7h.9M268.8 63.3h.9M284.7 79.0h.9M272.8 86.0h.9M279.2 85.4h.9M278.7 81.1h.9M261.6 76.1h.9M284.7 83.5h.9M275.8 78.7h.9M274.6 76.1h.9M269.2 89.3h.9M260.7 64.8h.9M265.7 71.6h.9M286.9 71.4h.9M261.1 81.0h.9M274.6 89.6h.9M282.5 78.7h.9M274.3 66.5h.9M274.1 68.1h.9M263.9 84.1h.9M274.0 70.7h.9M272.4 82.3h.9M267.6 86.0h.9M277.1 71.1h.9M269.5 79.3h.9M284.8 89.7h.9M277.6 77.9h.9M266.1 89.6h.9M271.9 72.3h.9M276.6 86.4h.9M275.9 80.9h.9M275.3 93.8h.9M280.5 71.7h.9M279.0 84.8h.9M272.1 78.1h.9M266.3 72.8h.9M271.7 79.6h.9M267.2 81.8h.9M271.0 75.4h.9M283.3 76.2h.9M279.5 79.7h.9M280.0 73.9h.9M278.8 67.9h.9M280.5 79.8h.9M273.3 82.3h.9M273.0 88.2h.9M277.5 87.9h.9M273.6 80.1h.9M271.3 82.6h.9M280.1 87.8h.9M269.5 86.5h.9M279.7 72.1h.9M282.1 84.1h.9M275.3 78.1h.9M269.4 85.3h.9M285.8 85.8h.9M273.0 94.2h.9M268.3 80.4h.9M273.2 85.7h.9M271.1 81.5h.9M274.0 80.8h.9M282.3 88.3h.9M263.9 78.9h.9M269.4 69.5h.9M281.4 77.6h.9M270.0 82.5h.9M269.5 81.0h.9M272.2 66.8h.9M286.8 79.8h.9M287.6 75.8h.9M268.9 90.5h.9M271.6 79.2h.9M279.0 83.4h.9M280.9 84.7h.9M272.5 91.1h.9M273.4 83.6h.9M267.1 80.4h.9M274.7 85.0h.9M291.1 82.1h.9M273.6 71.7h.9M262.5 77.3h.9M269.1 70.9h.9M278.0 74.1h.9M280.3 87.2h.9M278.9 91.0h.9M270.0 84.2h.9M267.9 87.9h.9M286.5 81.9h.9M273.3 87.8h.9M277.3 89.6h.9M279.7 71.3h.9M280.3 73.3h.9M285.7 80.9h.9M268.2 82.6h.9M267.9 77.5h.9M278.1 83.5h.9M262.6 77.2h.9M279.3 80.6h.9M280.7 87.3h.9M283.1 73.8h.9M278.7 77.3h.9M277.5 86.5h.9M278.4 77.8h.9M271.2 68.5h.9M272.6 85.2h.9M276.2 67.0h.9M284.2 86.5h.9M275.7 91.5h.9M281.3 68.2h.9M275.5 86.1h.9M272.0 83.7h.9M277.0 98.7h.9M269.6 77.6h.9M263.8 94.4h.9M281.7 96.1h.9M280.4 75.5h.9M279.4 80.5h.9M285.3 89.9h.9M272.7 85.6h.9M269.1 88.6h.9M289.7 85.9h.9M275.3 73.9h.9M268.6 78.4h.9M289.4 69.5h.9M274.8 74.0h.9M270.6 75.6h.9M280.1 74.2h.9M270.1 101.0h.9M263.2 82.0h.9M268.1 77.5h.9M270.7 86.2h.9M274.4 81.4h.9M268.3 72.4h.9M264.6 81.2h.9M277.8 71.9h.9M279.3 77.1h.9M272.6 89.5h.9M274.4 82.9h.9M260.8 81.7h.9M268.1 81.1h.9M279.8 72.5h.9M280.0 80.4h.9M257.0 81.9h.9M286.9 87.1h.9M280.3 92.2h.9M266.1 77.6h.9M283.6 75.5h.9M267.0 86.0h.9M277.6 80.3h.9M279.7 67.7h.9M281.7 100.0h.9M286.3 86.4h.9M272.3 75.0h.9M289.3 68.3h.9M290.3 86.1h.9M274.9 84.4h.9M290.9 73.1h.9M275.5 78.3h.9M289.0 68.4h.9M267.6 86.6h.9M277.0 83.3h.9M271.9 88.7h.9M267.0 93.1h.9M274.6 75.6h.9M280.0 60.6h.9M272.7 89.5h.9M280.3 76.6h.9M281.1 66.0h.9M277.1 87.4h.9M283.4 78.7h.9M265.3 93.6h.9M262.9 81.8h.9M286.2 69.2h.9M276.1 82.4h.9M275.5 76.3h.9M282.1 92.7h.9M266.1 74.7h.9M273.7 92.6h.9M273.5 87.0h.9M266.5 98.5h.9M262.1 79.3h.9M273.2 75.1h.9M277.2 82.4h.9M288.2 81.6h.9M276.5 72.4h.9M266.7 79.2h.9M276.6 87.6h.9M287.5 85.4h.9M276.4 83.0h.9M268.8 69.2h.9M275.6 75.9h.9M281.4 80.6h.9M277.5 60.7h.9M290.0 72.6h.9M274.2 75.8h.9M284.6 76.4h.9M278.0 79.2h.9M289.8 70.5h.9M276.8 86.1h.9M269.1 89.8h.9M280.0 82.6h.9M271.9 83.8h.9M271.9 80.2h.9M277.8 89.6h.9M286.2 87.5h.9M279.6 69.6h.9M265.9 92.5h.9M289.5 74.4h.9M265.9 81.6h.9M266.0 83.8h.9M279.3 71.3h.9M270.4 74.5h.9M270.5 75.7h.9M274.7 81.9h.9M269.5 85.4h.9M272.4 67.7h.9M285.1 84.6h.9M268.0 85.6h.9M264.5 84.6h.9M268.9 87.6h.9M275.8 89.0h.9M278.1 80.6h.9M278.7 73.6h.9M295.2 102.4h.9M272.9 86.9h.9M285.3 77.6h.9M276.7 67.0h.9M266.5 80.3h.9M275.6 96.1h.9M274.0 75.6h.9M271.8 67.5h.9M277.0 86.7h.9M275.3 84.9h.9M279.4 78.6h.9M280.8 70.9h.9M277.2 96.4h.9M274.9 77.1h.9M280.4 97.2h.9M278.3 69.3h.9M281.4 87.1h.9M282.1 77.5h.9M290.3 86.9h.9M272.6 84.2h.9M282.6 82.5h.9M266.0 83.0h.9M266.2 78.8h.9M270.3 71.9h.9M276.1 69.8h.9M282.0 76.1h.9M270.5 86.5h.9M284.2 76.0h.9M271.4 60.7h.9M276.1 88.9h.9M270.0 87.9h.9M276.9 70.8h.9M268.3 83.2h.9M269.5 72.0h.9M284.6 75.8h.9M266.4 81.1h.9M275.9 71.9h.9M266.0 81.8h.9M262.9 73.5h.9M282.4 73.8h.9M264.7 84.4h.9M282.8 78.5h.9M273.3 77.0h.9M274.2 85.9h.9M275.5 92.1h.9M276.6 77.0h.9M267.2 76.8h.9M284.6 77.6h.9M287.1 73.2h.9M273.1 83.2h.9M275.8 87.0h.9M268.0 89.0h.9M274.5 79.1h.9M273.4 98.2h.9M276.7 73.8h.9M277.9 76.5h.9M287.9 90.4h.9M288.2 71.6h.9M269.2 82.5h.9M272.7 78.9h.9M280.9 85.2h.9M288.8 74.8h.9M285.4 83.7h.9M280.8 88.5h.9M279.3 89.2h.9M269.9 79.4h.9M276.7 88.7h.9M255.1 90.4h.9M282.2 83.6h.9M278.6 71.9h.9M275.3 101.4h.9M287.0 79.8h.9M275.1 92.7h.9M275.0 85.2h.9M275.4 73.7h.9M273.1 87.4h.9M266.0 94.0h.9M282.4 63.3h.9M276.3 84.9h.9M269.9 79.6h.9M265.4 90.4h.9M270.6 85.9h.9M288.1 77.6h.9M279.7 60.9h.9M271.3 83.7h.9M271.6 86.8h.9M289.7 85.3h.9M275.0 79.7h.9M274.8 71.6h.9M275.9 88.2h.9M270.9 79.6h.9M262.4 81.3h.9M274.9 78.5h.9M279.3 76.2h.9M272.9 74.4h.9M272.6 97.2h.9M270.8 90.6h.9M276.0 91.3h.9M284.5 98.1h.9M277.5 81.1h.9M254.5 70.4h.9M280.6 71.9h.9M269.3 84.6h.9M278.4 94.2h.9M285.2 83.5h.9M271.1 96.0h.9M287.6 79.5h.9M273.5 79.6h.9M271.5 81.1h.9M275.6 92.2h.9M273.9 92.6h.9M277.3 75.8h.9M269.4 87.0h.9M262.5 102.3h.9M284.2 81.4h.9M272.1 87.3h.9M278.6 81.7h.9M276.4 90.4h.9M278.9 81.2h.9M276.4 90.5h.9M281.8 56.9h.9M276.8 75.7h.9M279.9 86.2h.9M272.0 86.0h.9M285.5 87.7h.9M279.3 78.5h.9M271.2 94.4h.9M285.3 68.5h.9M276.0 78.8h.9M273.9 91.1h.9M281.5 82.9h.9M274.1 85.5h.9M275.5 85.0h.9M273.7 78.1h.9M269.4 79.2h.9M287.7 77.1h.9M275.9 80.2h.9M275.8 81.1h.9M275.4 82.4h.9M283.8 79.2h.9M284.0 80.3h.9M276.3 64.8h.9M270.4 88.7h.9M280.0 78.4h.9M279.6 74.7h.9M281.0 64.6h.9M280.9 79.0h.9M266.7 85.6h.9M265.4 91.7h.9M269.0 59.6h.9M268.7 92.8h.9M273.2 75.0h.9M287.4 78.4h.9M286.1 87.1h.9M262.0 73.1h.9M269.7 86.9h.9M285.4 85.3h.9M283.1 83.8h.9M270.7 79.6h.9M269.6 83.8h.9M276.1 93.9h.9M278.5 84.4h.9M271.3 85.2h.9M270.4 87.7h.9M267.1 83.4h.9M277.2 84.1h.9M275.7 75.0h.9M281.5 80.5h.9M280.5 78.2h.9M271.4 94.2h.9M282.1 70.8h.9M269.5 88.7h.9M274.5 92.0h.9M272.0 84.3h.9M275.6 77.6h.9M278.0 84.2h.9M271.8 84.2h.9M277.2 83.8h.9M276.9 68.0h.9M277.0 75.7h.9M274.7 79.3h.9M282.5 78.0h.9M264.4 78.9h.9M268.5 78.7h.9M265.9 93.0h.9M277.2 79.6h.9M275.6 80.5h.9M270.6 94.0h.9M278.6 91.8h.9M289.0 80.5h.9M278.2 90.2h.9M283.4 78.6h.9M270.4 83.5h.9M269.7 100.4h.9M277.3 81.1h.9M278.4 92.3h.9M280.2 90.2h.9M262.2 88.9h.9M271.5 75.7h.9M283.4 87.5h.9M266.5 83.6h.9M282.4 83.4h.9M276.7 78.1h.9M263.2 78.6h.9M274.2 88.9h.9M267.2 83.2h.9M274.6 74.8h.9M274.6 84.2h.9M285.3 88.8h.9M265.9 89.3h.9M287.9 82.9h.9M284.6 84.3h.9M265.8 92.0h.9M276.7 80.5h.9M272.7 72.9h.9M281.8 82.0h.9M275.7 78.3h.9M268.9 74.5h.9M255.6 85.5h.9M281.0 79.3h.9M284.2 74.1h.9M265.3 88.5h.9M267.8 80.2h.9M273.8 86.1h.9M282.5 88.1h.9M281.3 89.9h.9M265.6 83.0h.9M277.1 85.6h.9M288.7 76.0h.9M277.1 83.9h.9M279.1 76.0h.9M272.1 83.3h.9M262.3 76.1h.9M263.3 88.5h.9M277.9 63.4h.9M281.6 77.9h.9M280.4 76.5h.9M292.0 82.3h.9M284.7 92.3h.9M283.0 77.0h.9M282.3 77.1h.9M263.1 82.0h.9M272.7 70.3h.9M276.7 69.0h.9M270.3 70.7h.9M278.0 84.6h.9M276.9 70.9h.9M273.8 81.5h.9M282.7 79.7h.9M275.9 90.4h.9M287.8 86.9h.9M266.1 93.4h.9M282.7 85.0h.9M280.6 77.6h.9M270.8 80.2h.9M266.7 75.5h.9M265.4 71.9h.9M275.3 103.3h.9M272.2 91.9h.9M278.9 93.3h.9M276.7 92.3h.9M281.2 76.9h.9M270.2 74.5h.9M282.1 75.2h.9M263.0 85.3h.9M277.1 99.3h.9M273.9 77.8h.9M281.3 84.6h.9M270.1 75.8h.9M261.6 78.0h.9M281.5 86.7h.9M278.6 86.7h.9M277.6 87.9h.9M269.7 80.4h.9M275.6 80.2h.9M279.9 96.2h.9M269.1 82.6h.9M276.9 76.1h.9M271.8 93.1h.9M270.8 79.2h.9M273.5 89.3h.9M276.0 82.0h.9M267.7 93.6h.9M276.0 98.1h.9M280.2 85.2h.9M270.7 78.5h.9M270.8 77.2h.9M273.3 85.7h.9M277.9 88.7h.9M289.0 60.5h.9M283.1 69.5h.9M279.2 76.0h.9M259.8 86.4h.9M273.9 83.1h.9M286.3 70.4h.9M272.0 80.6h.9M297.0 87.0h.9M266.0 73.5h.9M276.6 74.1h.9M276.2 79.0h.9M282.4 76.2h.9M269.0 74.2h.9M276.0 74.9h.9M274.7 89.7h.9M276.6 79.6h.9M286.4 90.0h.9M280.3 79.0h.9M266.7 84.2h.9M275.4 83.9h.9M280.3 80.4h.9M277.9 93.0h.9M277.0 81.2h.9M259.5 95.4h.9M279.6 86.4h.9M278.5 85.2h.9M279.0 85.6h.9M268.9 90.5h.9M274.1 83.2h.9M276.6 79.0h.9M283.9 76.2h.9M278.7 99.7h.9M264.5 88.1h.9M265.0 90.7h.9M286.3 87.5h.9M284.3 76.9h.9M273.2 83.5h.9M281.0 77.0h.9M283.1 82.0h.9M262.3 86.4h.9M275.2 77.3h.9M273.1 69.9h.9M273.6 82.0h.9M278.3 68.4h.9M266.0 81.9h.9M288.1 80.4h.9M260.5 86.4h.9M282.6 73.5h.9M278.2 72.6h.9M280.2 80.5h.9M271.9 56.8h.9M285.9 76.4h.9M265.6 75.5h.9M277.4 87.8h.9M274.1 79.2h.9M280.6 89.0h.9M277.7 84.8h.9M273.1 80.4h.9M280.2 76.2h.9M274.9 79.1h.9M274.5 90.2h.9M262.5 83.3h.9M269.5 84.2h.9M273.2 73.5h.9M275.4 93.4h.9M271.2 73.2h.9M272.4 80.6h.9M260.1 89.3h.9M280.7 68.0h.9M275.9 82.5h.9M284.5 94.0h.9M273.2 77.8h.9M283.4 70.1h.9M270.3 87.3h.9M270.8 90.6h.9M271.3 94.0h.9M275.5 72.4h.9M270.8 65.4h.9M279.3 86.7h.9M267.3 95.9h.9M269.5 76.8h.9M273.6 90.3h.9M281.5 79.9h.9M261.9 80.1h.9M273.1 87.8h.9M274.2 77.9h.9M277.5 99.5h.9M261.3 91.5h.9M283.0 80.2h.9M275.5 71.0h.9M293.1 74.9h.9M273.8 91.1h.9M271.8 82.3h.9M280.3 81.1h.9M285.2 80.8h.9M271.9 75.7h.9M269.3 90.9h.9M270.6 84.7h.9M287.1 67.5h.9M286.8 75.7h.9M270.1 64.9h.9M276.5 85.6h.9M267.5 78.9h.9M263.0 83.8h.9M272.3 76.2h.9M281.7 82.0h.9M280.9 79.2h.9M262.3 81.6h.9M277.4 72.4h.9M279.3 78.7h.9M286.9 70.4h.9M271.3 86.8h.9M280.5 72.1h.9M280.6 79.9h.9M279.8 83.7h.9M285.4 83.5h.9M278.0 62.2h.9M264.3 80.7h.9M265.1 83.4h.9M269.4 79.8h.9M277.9 79.4h.9M273.3 80.0h.9M266.9 97.5h.9M284.4 78.0h.9M279.2 91.8h.9M262.7 91.9h.9M277.8 93.3h.9M276.6 82.8h.9M283.3 58.5h.9M257.7 89.2h.9M278.9 79.1h.9M282.6 91.3h.9M282.2 69.4h.9M264.0 84.0h.9M286.5 87.7h.9M273.3 93.2h.9M284.5 62.7h.9M271.8 83.8h.9M293.7 91.3h.9M270.2 77.4h.9M272.3 82.7h.9M275.8 79.5h.9M273.6 88.3h.9M279.0 72.9h.9M270.5 83.9h.9M275.3 92.7h.9M280.9 75.9h.9M276.7 101.2h.9M280.7 84.4h.9M269.2 72.6h.9M274.5 86.8h.9M273.0 85.6h.9M270.9 82.7h.9M278.3 88.1h.9M280.2 84.2h.9M277.3 66.7h.9M280.0 98.0h.9M273.6 83.5h.9M282.2 74.0h.9M263.4 82.9h.9M275.9 87.6h.9M266.8 81.6h.9M264.2 81.2h.9M270.2 93.2h.9M287.6 77.9h.9M266.8 88.3h.9M260.7 94.7h.9M280.9 88.0h.9M289.8 68.8h.9M275.3 81.5h.9M281.3 75.3h.9M273.7 70.9h.9M269.6 74.9h.9M261.2 89.1h.9M276.2 75.6h.9M279.8 84.5h.9M270.2 86.9h.9M276.8 79.3h.9M276.1 90.1h.9M264.9 71.7h.9M272.5 100.5h.9M276.2 85.0h.9M271.2 75.1h.9M275.1 78.9h.9M268.9 72.9h.9M279.8 81.6h.9M277.2 78.5h.9M281.9 66.4h.9M268.4 77.2h.9M284.3 70.8h.9M281.2 77.7h.9M280.5 80.9h.9M267.5 74.8h.9M273.5 80.3h.9M269.9 85.3h.9M281.8 81.9h.9M275.2 92.8h.9M273.8 90.9h.9M277.4 90.3h.9M274.0 85.1h.9M288.9 90.7h.9M273.7 81.3h.9M276.4 79.3h.9M267.5 80.2h.9M284.5 68.7h.9M282.9 71.2h.9M281.4 86.7h.9M270.9 95.2h.9M270.3 74.3h.9M278.4 76.4h.9M283.6 67.3h.9M279.0 84.0h.9M277.0 79.9h.9M275.2 75.2h.9M282.7 69.6h.9M270.1 93.7h.9M267.9 81.5h.9M265.1 89.9h.9M272.7 88.1h.9M284.9 78.3h.9M276.1 82.7h.9M273.3 85.2h.9M279.4 80.7h.9M277.1 79.3h.9M268.9 72.5h.9M274.8 75.6h.9M282.1 85.9h.9M282.4 70.2h.9M277.5 62.7h.9M263.8 71.2h.9M283.2 69.1h.9M274.2 82.2h.9M291.0 83.0h.9M270.7 78.1h.9M272.3 96.0h.9M283.6 83.1h.9M278.4 85.2h.9M268.1 80.4h.9M272.4 89.5h.9M274.5 72.3h.9M269.3 87.7h.9M278.8 84.4h.9M265.6 78.1h.9M278.3 89.6h.9M281.4 93.4h.9M278.4 87.1h.9M267.3 92.5h.9M278.7 100.0h.9M283.0 93.5h.9M266.6 85.3h.9M272.7 91.2h.9M274.5 85.5h.9M273.2 93.6h.9M280.7 78.5h.9M268.0 85.0h.9M274.6 77.7h.9M279.6 78.7h.9M282.4 95.3h.9M276.6 93.9h.9M278.7 94.5h.9M280.7 81.5h.9M273.1 83.9h.9M273.9 77.1h.9M268.9 76.2h.9M273.0 85.7h.9M276.7 83.8h.9M268.8 85.3h.9M266.0 76.1h.9M272.2 59.8h.9M258.4 87.3h.9M282.1 90.1h.9M286.6 83.9h.9M273.6 98.3h.9M269.7 101.1h.9M281.1 78.4h.9M269.1 74.7h.9M293.8 80.2h.9M277.1 78.1h.9M278.5 77.7h.9M273.7 79.1h.9M271.5 68.9h.9M279.8 77.7h.9M273.4 100.4h.9M271.0 96.8h.9M267.7 77.3h.9M262.5 75.4h.9M286.0 85.2h.9M280.6 88.1h.9M268.5 75.1h.9M274.7 77.5h.9M282.3 97.2h.9M275.9 75.8h.9M273.7 80.1h.9M280.5 73.6h.9M276.1 86.1h.9M279.2 73.2h.9M287.3 72.6h.9M277.5 74.1h.9M273.5 77.2h.9M268.8 69.0h.9M270.0 95.6h.9M286.6 90.9h.9M278.9 83.3h.9M282.2 86.2h.9M275.1 86.9h.9M277.9 81.4h.9M258.4 84.1h.9M273.2 80.1h.9M264.7 73.9h.9M267.4 84.9h.9M273.1 79.1h.9M279.0 68.9h.9M276.7 66.1h.9M276.4 80.1h.9M274.2 82.3h.9M269.6 99.1h.9M276.3 71.6h.9M276.7 77.0h.9M272.5 75.3h.9M269.1 94.4h.9M275.0 79.1h.9M284.3 85.2h.9M280.0 89.4h.9M289.2 60.9h.9M282.8 96.2h.9M264.9 77.1h.9M269.4 84.7h.9M278.5 67.5h.9M278.3 93.8h.9M266.2 84.2h.9M258.6 96.8h.9M267.0 77.2h.9M272.8 93.3h.9M272.3 89.1h.9M276.5 82.5h.9M288.4 71.9h.9M269.4 87.7h.9M277.1 83.3h.9M271.7 95.1h.9M272.1 81.1h.9M277.5 69.7h.9M273.5 82.2h.9M279.4 85.4h.9M275.2 86.5h.9M273.8 87.8h.9M278.1 83.7h.9M289.3 74.0h.9M285.2 75.8h.9M281.8 86.1h.9M269.5 79.8h.9M272.2 90.8h.9M275.3 83.6h.9M276.2 92.3h.9M265.2 79.3h.9M277.4 80.0h.9M270.6 96.7h.9M282.7 85.7h.9M275.5 81.7h.9M265.8 78.9h.9M274.1 90.8h.9M269.6 76.9h.9M282.7 88.5h.9M271.4 74.6h.9M264.2 80.5h.9M281.2 65.2h.9M276.3 76.7h.9M279.4 79.7h.9M272.6 79.1h.9M280.8 81.3h.9M276.9 92.4h.9M253.0 77.2h.9M277.3 74.4h.9M264.9 79.0h.9M271.6 93.8h.9M278.6 78.7h.9M272.1 77.7h.9M270.6 84.8h.9M277.0 70.4h.9M269.3 78.4h.9M264.0 88.3h.9M273.8 98.1h.9M279.7 76.3h.9M269.6 90.6h.9M280.5 74.4h.9M258.8 92.3h.9M273.2 86.7h.9M273.4 80.6h.9M282.7 83.7h.9M267.1 83.8h.9M261.6 89.8h.9M273.8 88.1h.9M272.8 92.5h.9M271.1 90.3h.9M273.6 90.8h.9M262.9 96.0h.9M273.4 92.8h.9M271.3 82.2h.9M264.8 81.3h.9M284.8 75.1h.9M289.8 76.1h.9M277.8 81.6h.9M277.5 84.6h.9M274.2 79.6h.9M282.0 85.2h.9M278.5 95.0h.9M272.7 84.8h.9M285.6 72.7h.9M269.7 87.6h.9M279.8 92.7h.9M281.2 86.8h.9M263.8 79.5h.9M274.7 78.1h.9M268.1 83.9h.9M271.3 76.6h.9M275.9 82.7h.9M276.3 92.3h.9M276.1 84.7h.9M275.6 83.9h.9M254.6 86.1h.9M277.8 82.5h.9M264.5 87.5h.9M279.1 88.0h.9M265.7 73.5h.9M269.6 76.4h.9M267.8 84.8h.9M269.3 96.1h.9M275.4 75.4h.9M281.8 76.2h.9M268.3 92.9h.9M266.2 86.5h.9M287.8 92.3h.9M288.0 76.6h.9M259.6 85.3h.9M275.1 69.4h.9M269.0 88.4h.9M280.1 83.8h.9M276.2 84.4h.9M283.2 84.0h.9M288.2 82.5h.9M271.9 77.8h.9M275.5 88.9h.9M284.3 69.2h.9M275.6 70.4h.9M267.2 85.7h.9M271.7 84.1h.9M267.3 96.4h.9M273.3 70.8h.9M279.5 76.6h.9M281.0 85.8h.9M275.4 84.3h.9M273.3 84.6h.9M278.8 87.3h.9M269.0 86.6h.9M277.3 67.4h.9M259.4 76.8h.9M279.8 80.7h.9M270.8 75.0h.9M276.7 99.7h.9M284.1 85.0h.9M263.6 88.4h.9M259.4 99.0h.9M269.8 77.2h.9M267.2 79.0h.9M281.7 86.0h.9M272.9 83.3h.9M264.0 90.9h.9M269.7 88.6h.9M274.6 84.2h.9M274.4 83.3h.9M274.9 75.1h.9M272.9 85.4h.9M275.6 71.9h.9M277.6 77.3h.9M275.1 84.0h.9M277.9 77.8h.9M263.4 63.4h.9M265.6 76.8h.9M271.7 71.8h.9M265.6 83.1h.9M271.3 82.8h.9M270.6 68.4h.9M275.7 86.9h.9M283.1 93.7h.9M275.8 85.1h.9M276.3 81.7h.9M271.2 76.9h.9M256.5 90.7h.9M276.8 85.4h.9M268.9 80.2h.9M273.2 79.3h.9M279.0 74.2h.9M273.5 77.4h.9M266.2 83.6h.9M269.8 83.3h.9M273.9 85.3h.9M268.4 80.6h.9M273.1 73.7h.9M278.9 85.6h.9M268.0 88.1h.9M265.2 77.4h.9M278.6 63.2h.9M268.5 72.2h.9M285.1 70.8h.9M268.3 70.8h.9M267.2 99.1h.9M280.3 81.7h.9M287.4 81.4h.9M273.3 66.6h.9M271.1 78.4h.9M260.2 86.8h.9M279.3 77.3h.9M278.9 88.9h.9M286.8 91.2h.9M277.9 78.8h.9M269.9 86.8h.9M273.5 78.1h.9M270.9 73.5h.9M268.1 72.8h.9M264.2 79.3h.9M277.2 101.8h.9M269.6 88.9h.9M284.5 81.2h.9M277.7 84.6h.9M284.1 79.7h.9M278.8 76.1h.9M277.8 67.0h.9M270.5 83.7h.9M281.4 80.8h.9M282.7 84.9h.9M287.7 65.9h.9M264.0 80.2h.9M285.2 74.9h.9M275.4 71.8h.9M270.8 84.7h.9M268.1 82.1h.9M280.3 87.0h.9M260.8 76.9h.9M272.9 86.3h.9M286.7 79.3h.9M292.8 74.9h.9M286.8 81.9h.9M267.4 76.9h.9M276.6 83.2h.9M279.2 88.7h.9M281.4 76.6h.9M270.6 85.9h.9M273.0 71.7h.9M276.9 89.3h.9M270.3 71.3h.9M261.1 85.4h.9M269.7 80.0h.9M282.5 69.2h.9M284.3 84.6h.9M265.2 97.1h.9M277.3 92.1h.9M271.9 74.9h.9M266.7 91.8h.9M273.4 80.3h.9M272.0 78.6h.9M279.6 90.8h.9M268.3 74.4h.9M266.1 77.1h.9M284.7 80.7h.9M268.3 99.3h.9M283.7 76.2h.9M279.6 63.1h.9M273.6 94.7h.9M270.5 66.3h.9M271.5 87.4h.9M279.7 78.5h.9M265.9 71.2h.9M268.1 85.2h.9M271.0 70.0h.9M269.3 80.7h.9M271.1 85.1h.9M268.6 87.9h.9M265.9 70.5h.9M283.5 75.8h.9M255.9 99.4h.9M281.0 75.0h.9M269.2 82.7h.9M265.3 76.9h.9M281.5 82.1h.9M273.3 76.8h.9M287.5 73.2h.9M278.2 77.9h.9M290.7 71.1h.9M276.7 72.2h.9M295.0 69.8h.9M284.3 77.5h.9M282.9 69.6h.9M285.7 66.2h.9M290.1 66.5h.9M290.5 75.3h.9M293.1 67.8h.9M292.0 76.6h.9M282.2 71.4h.9M279.3 75.1h.9M291.3 77.1h.9M283.5 81.9h.9M278.5 79.3h.9M281.6 67.9h.9M280.1 74.8h.9M280.1 74.4h.9M287.4 65.5h.9M282.7 80.0h.9M287.7 73.2h.9M273.5 73.2h.9M284.8 66.2h.9M277.2 77.2h.9M284.5 63.5h.9M288.1 75.9h.9M285.9 69.4h.9M277.8 69.0h.9M285.6 74.9h.9M288.3 66.0h.9M282.8 72.6h.9M286.8 72.3h.9M281.3 69.0h.9M290.2 71.9h.9M279.9 81.8h.9M292.8 74.1h.9M279.5 74.6h.9M283.1 77.4h.9M270.3 73.6h.9M280.3 73.6h.9M288.5 76.5h.9M277.0 70.6h.9M287.1 72.3h.9M296.2 71.3h.9M285.6 72.7h.9M286.2 81.1h.9M283.7 70.8h.9M271.8 75.9h.9M285.4 64.6h.9M277.9 77.0h.9M281.8 74.5h.9M284.0 68.5h.9M290.9 71.5h.9M287.2 79.7h.9M288.9 67.7h.9M294.5 74.8h.9M294.7 71.5h.9M274.6 76.5h.9M275.3 65.6h.9M283.9 63.9h.9M283.5 72.9h.9M291.9 73.8h.9M281.2 71.2h.9M285.1 64.3h.9M290.4 80.8h.9M290.4 71.7h.9M290.1 73.9h.9M281.2 72.8h.9M295.8 64.2h.9M276.0 75.2h.9M279.4 72.3h.9M298.3 67.9h.9M281.3 70.9h.9M287.8 72.3h.9M289.4 71.8h.9M281.1 61.5h.9M284.4 69.3h.9M291.2 71.3h.9M289.1 73.0h.9M277.5 76.6h.9M293.7 64.1h.9M277.9 74.2h.9M290.0 69.3h.9M281.8 75.1h.9M278.5 70.9h.9M286.0 70.3h.9M280.4 63.3h.9M283.5 65.8h.9M278.4 83.6h.9M274.9 81.4h.9M290.0 74.8h.9M287.3 74.3h.9M289.6 66.8h.9M285.2 81.5h.9M289.5 81.9h.9M263.2 76.0h.9M282.8 68.2h.9M284.5 69.6h.9M287.1 76.3h.9M278.8 76.6h.9M284.9 72.9h.9M285.0 75.3h.9M285.6 74.6h.9M295.2 71.4h.9M273.1 79.0h.9M297.1 73.5h.9M280.6 58.5h.9M287.4 74.3h.9M284.6 79.0h.9M280.6 75.0h.9M295.8 61.1h.9M284.8 75.9h.9M290.3 66.4h.9M277.4 65.8h.9M297.4 65.0h.9M281.9 71.2h.9M300.3 64.9h.9M295.0 70.8h.9M285.9 73.2h.9M279.1 72.3h.9M281.6 80.5h.9M284.7 79.4h.9M290.8 74.3h.9M280.7 69.1h.9M284.0 69.9h.9M288.6 70.9h.9M276.7 74.6h.9M280.7 66.5h.9M286.3 77.7h.9M280.1 77.1h.9M286.2 66.5h.9M282.5 66.4h.9M295.0 72.4h.9M294.6 77.1h.9M295.3 69.5h.9M293.0 69.3h.9M291.8 69.1h.9M284.7 70.0h.9M284.3 80.6h.9M290.5 74.2h.9M284.0 72.6h.9M265.1 70.4h.9M285.5 62.4h.9M286.3 70.4h.9M259.3 86.6h.9M275.0 83.9h.9M288.6 73.0h.9M273.6 78.7h.9M284.2 75.3h.9M293.2 63.9h.9M283.4 75.9h.9M290.2 68.0h.9M285.1 71.3h.9M280.1 75.2h.9M280.5 66.9h.9M292.5 70.3h.9M296.1 68.3h.9M287.4 66.7h.9M278.8 71.6h.9M289.1 66.6h.9M290.0 84.4h.9M299.1 65.2h.9M288.3 75.7h.9M282.0 60.5h.9M273.3 72.1h.9M282.2 66.3h.9M291.1 66.6h.9M280.5 78.8h.9M289.8 72.5h.9M287.4 71.6h.9M284.9 75.5h.9M288.6 69.7h.9M283.4 73.4h.9M293.7 77.1h.9M289.4 74.0h.9M285.8 78.2h.9M303.9 73.8h.9M283.6 66.3h.9M288.5 82.4h.9M278.6 68.7h.9M290.7 76.5h.9M293.9 66.8h.9M291.2 80.6h.9M289.4 77.0h.9M287.7 66.6h.9M279.1 78.3h.9M297.9 69.3h.9M279.0 71.8h.9M283.8 74.2h.9M286.8 68.1h.9M288.7 68.9h.9M293.7 67.6h.9M295.1 67.6h.9M283.1 67.5h.9M282.9 83.4h.9M272.8 70.8h.9M276.4 77.4h.9M283.8 69.5h.9M287.7 78.2h.9M280.1 72.3h.9M288.4 68.2h.9M284.6 82.2h.9M291.9 68.7h.9M285.8 67.7h.9M283.1 75.9h.9M292.2 63.1h.9M277.2 77.6h.9M280.1 71.8h.9M288.3 72.9h.9M285.8 65.8h.9M286.6 76.1h.9M294.0 73.4h.9M278.1 70.9h.9M284.6 72.1h.9M281.8 77.2h.9M290.8 62.1h.9M277.9 76.1h.9M282.6 75.1h.9M271.7 72.1h.9M275.6 72.3h.9M282.5 80.4h.9M295.0 69.4h.9M286.0 70.1h.9M282.2 67.9h.9M292.7 71.9h.9M277.8 72.6h.9M299.5 77.3h.9M278.0 77.4h.9M290.5 66.3h.9M281.1 68.9h.9M274.1 78.1h.9M279.9 69.1h.9M289.3 65.9h.9M282.3 72.0h.9M287.3 72.6h.9M286.3 79.3h.9M283.9 67.3h.9M287.8 78.4h.9M288.6 70.6h.9M288.0 72.8h.9M281.3 69.6h.9M288.2 75.5h.9M279.2 79.8h.9M278.2 73.7h.9M289.1 75.0h.9M292.5 68.1h.9M296.5 64.5h.9M287.0 64.8h.9M279.3 71.0h.9M286.7 69.9h.9M292.6 75.9h.9M288.5 71.5h.9M292.6 65.9h.9M286.3 69.9h.9M289.0 70.9h.9M273.9 76.8h.9M284.8 70.1h.9M270.9 87.5h.9M282.4 77.1h.9M289.2 69.3h.9M283.5 73.5h.9M288.9 66.1h.9M281.9 75.3h.9M299.2 65.7h.9M274.8 73.7h.9M280.1 66.9h.9M276.8 70.3h.9M292.5 66.8h.9M267.4 77.5h.9M294.2 70.1h.9M286.6 80.1h.9M290.0 61.3h.9M287.6 72.8h.9M284.5 78.0h.9M293.1 63.9h.9M287.3 75.4h.9M280.6 72.0h.9M293.4 72.7h.9M283.9 86.9h.9M289.2 78.6h.9M291.8 66.0h.9M288.3 68.1h.9M289.5 67.1h.9M284.1 70.2h.9M280.1 74.1h.9M287.7 78.5h.9M282.9 74.0h.9M285.0 72.5h.9M279.2 70.8h.9M280.2 82.7h.9M275.9 74.0h.9M294.6 65.2h.9M285.4 76.3h.9M285.3 70.4h.9M273.0 74.4h.9M279.4 79.6h.9M294.2 69.1h.9M286.5 66.4h.9M294.0 59.6h.9M281.1 72.0h.9M280.7 68.7h.9M286.3 70.1h.9M291.7 60.1h.9M282.0 74.3h.9M290.8 68.8h.9M284.0 82.2h.9M292.0 72.0h.9M270.5 79.5h.9M269.4 66.1h.9M274.9 77.0h.9M299.0 69.4h.9M280.1 80.9h.9M276.5 76.1h.9M288.8 67.9h.9M285.8 73.9h.9M288.0 70.9h.9M279.4 76.5h.9M273.6 89.0h.9M291.3 66.1h.9M291.1 63.0h.9M278.9 69.9h.9M291.2 67.7h.9M278.5 73.4h.9M289.0 75.0h.9M282.4 75.8h.9M276.2 71.1h.9M281.9 70.3h.9M279.4 79.1h.9M294.5 74.5h.9M295.0 73.4h.9M281.5 69.2h.9M291.6 67.3h.9M283.4 69.2h.9M278.0 68.2h.9M284.7 72.3h.9M298.0 67.4h.9M288.1 57.5h.9M288.4 69.3h.9M277.5 73.2h.9M277.7 83.3h.9M280.0 81.5h.9M281.2 71.1h.9M282.3 78.5h.9M282.6 72.0h.9M296.8 70.0h.9M279.6 67.9h.9M285.5 75.7h.9M287.1 75.3h.9M276.5 68.5h.9M287.7 73.3h.9M281.4 81.3h.9M297.6 65.6h.9M282.4 79.9h.9M271.3 73.9h.9M285.0 66.5h.9M276.4 69.3h.9M278.6 80.2h.9M276.9 64.6h.9M290.9 73.2h.9M293.8 66.5h.9M287.3 75.7h.9M283.3 74.4h.9M287.7 70.8h.9M287.1 74.9h.9M288.1 76.1h.9M298.8 71.8h.9M288.2 76.5h.9M285.9 76.2h.9M273.4 74.8h.9M283.8 71.8h.9M279.9 66.0h.9M285.4 70.6h.9M289.7 68.8h.9M298.1 73.1h.9M285.6 81.8h.9M288.2 64.4h.9M279.3 66.0h.9M281.7 70.0h.9M287.5 72.2h.9M288.3 80.4h.9M277.7 68.8h.9M275.2 69.8h.9M281.5 67.2h.9M293.1 75.1h.9M287.2 67.6h.9M287.9 69.0h.9M272.4 72.0h.9M294.4 70.6h.9M294.8 65.4h.9M277.0 76.0h.9M286.5 67.6h.9M289.8 66.6h.9M286.4 78.0h.9M277.0 73.0h.9M291.2 72.7h.9M296.2 64.3h.9M284.7 66.3h.9M292.3 70.3h.9M294.1 62.7h.9M289.4 70.3h.9M296.4 72.2h.9M286.4 70.0h.9M285.9 68.0h.9M293.9 73.7h.9M283.2 72.2h.9M276.6 72.3h.9M280.6 74.2h.9M292.5 72.3h.9M296.4 69.8h.9M291.7 70.8h.9M276.7 79.0h.9M288.9 69.9h.9M285.0 65.7h.9M292.5 68.5h.9M277.6 66.2h.9M286.5 73.8h.9M282.1 68.0h.9M275.4 70.1h.9M283.9 80.8h.9M299.3 66.2h.9M283.3 73.8h.9M289.5 68.0h.9M294.7 67.8h.9M280.0 70.8h.9M290.3 66.8h.9M285.2 72.0h.9M285.8 71.7h.9M288.2 55.9h.9M283.8 79.9h.9M293.2 64.3h.9M284.9 76.8h.9M283.3 79.3h.9M286.2 73.3h.9M281.3 71.3h.9M278.2 78.4h.9M277.6 73.3h.9M275.9 70.7h.9M277.0 61.9h.9M293.4 71.6h.9M288.4 71.0h.9M299.2 73.0h.9M280.9 73.6h.9M282.9 74.5h.9M275.9 77.3h.9M294.4 65.8h.9M277.5 78.4h.9M289.1 72.9h.9M285.5 74.7h.9M293.9 62.7h.9M280.1 73.0h.9M286.7 81.2h.9M287.6 71.7h.9M287.5 67.3h.9M282.5 65.3h.9M302.0 70.6h.9M288.0 76.2h.9M284.5 72.8h.9M282.0 77.0h.9M295.6 72.9h.9M292.0 69.4h.9M268.0 80.4h.9M273.1 75.7h.9M281.0 74.0h.9M280.5 69.5h.9M291.9 70.2h.9M293.8 63.1h.9M279.4 71.2h.9M288.7 64.1h.9M283.3 70.7h.9M283.6 71.4h.9M271.7 76.0h.9M298.4 65.8h.9M285.3 72.4h.9M298.2 71.3h.9M285.1 71.5h.9M296.6 68.6h.9M288.2 77.2h.9M285.3 65.2h.9M282.3 68.3h.9M280.0 68.5h.9M285.4 70.4h.9M284.2 69.5h.9M290.3 68.9h.9M289.2 70.5h.9M282.2 61.4h.9M288.3 77.4h.9M284.2 75.3h.9M281.0 71.3h.9M295.6 70.8h.9M279.1 77.6h.9M283.0 74.8h.9M285.8 72.8h.9M285.6 73.2h.9M290.0 66.0h.9M280.5 72.2h.9M301.4 64.4h.9M304.1 72.3h.9M281.6 76.9h.9M287.1 64.9h.9M286.5 71.2h.9M290.4 69.9h.9M281.7 76.5h.9M287.5 59.4h.9M283.6 69.1h.9M285.4 80.1h.9M274.7 78.3h.9M281.0 82.2h.9M285.2 73.1h.9M279.3 74.4h.9M286.8 67.1h.9M283.7 69.3h.9M279.0 73.0h.9M277.7 81.6h.9M295.3 72.4h.9M290.4 76.3h.9M281.5 73.3h.9M279.4 71.7h.9M283.5 74.5h.9M286.7 73.0h.9M292.6 71.0h.9M294.1 70.6h.9M283.2 76.4h.9M294.6 82.7h.9M286.7 71.9h.9M292.7 75.5h.9M289.9 74.6h.9M291.7 70.3h.9M289.1 74.7h.9M285.0 67.6h.9M279.5 68.6h.9M292.6 72.2h.9M298.6 69.2h.9M285.6 67.0h.9M284.5 75.5h.9M288.3 69.5h.9M281.1 77.8h.9M283.6 68.8h.9M289.8 66.7h.9M281.5 76.7h.9M285.5 78.8h.9M285.9 69.7h.9M291.1 78.8h.9M298.7 66.9h.9M281.9 73.9h.9M271.8 84.4h.9M277.9 71.0h.9M280.7 72.3h.9M284.8 73.2h.9M289.1 73.4h.9M276.1 81.7h.9M279.4 65.1h.9M279.7 80.2h.9M285.0 69.8h.9M278.8 71.1h.9M277.3 70.5h.9M290.6 69.5h.9M294.1 67.8h.9M278.6 68.7h.9M277.5 73.0h.9M281.5 75.0h.9M286.5 68.8h.9M294.3 64.2h.9M292.8 76.7h.9M275.3 70.1h.9M279.8 75.9h.9M288.0 73.1h.9M278.3 72.6h.9M286.7 72.3h.9M291.3 70.1h.9M283.8 69.4h.9M290.6 71.1h.9M279.6 76.6h.9M291.6 72.8h.9M284.6 75.4h.9M275.3 72.5h.9M284.3 69.6h.9M294.2 77.9h.9M275.0 68.3h.9M280.7 71.6h.9M277.3 76.4h.9M286.0 72.5h.9M282.1 73.8h.9M285.7 71.2h.9M279.0 69.5h.9M284.3 72.0h.9M289.1 73.9h.9M292.2 67.0h.9M291.1 72.0h.9M287.7 71.2h.9M278.9 67.2h.9M280.2 70.9h.9M286.0 71.2h.9M280.8 78.0h.9M273.5 78.7h.9M286.6 69.0h.9M283.5 81.0h.9M281.2 71.2h.9M283.3 74.4h.9M282.9 69.6h.9M299.8 62.4h.9M278.2 76.7h.9M298.8 65.6h.9M300.4 74.8h.9M281.0 68.2h.9M277.9 71.8h.9M281.0 74.3h.9M293.5 71.5h.9M295.8 73.7h.9M282.1 68.5h.9M299.4 73.4h.9M272.7 72.0h.9M274.3 78.3h.9M285.8 71.5h.9M289.1 77.4h.9M280.0 65.5h.9M272.8 82.6h.9M290.9 67.6h.9M290.5 69.9h.9M282.5 74.7h.9M286.8 67.4h.9M278.9 74.7h.9M268.5 76.3h.9M279.6 75.2h.9M292.1 75.6h.9M282.0 69.3h.9M288.6 75.6h.9M295.2 74.2h.9M279.6 73.5h.9M279.2 83.8h.9M281.0 75.1h.9M275.6 84.3h.9M290.1 68.8h.9M285.1 70.2h.9M296.0 71.5h.9M284.2 73.2h.9M274.3 74.6h.9M285.5 73.4h.9M287.1 70.7h.9M279.6 74.9h.9M274.5 73.6h.9M280.4 67.3h.9M283.9 69.3h.9M277.2 79.8h.9M284.9 81.6h.9M276.6 80.0h.9M286.2 64.4h.9M284.0 71.0h.9M288.2 69.3h.9M298.2 73.4h.9M290.6 66.2h.9M277.6 67.7h.9M280.4 79.2h.9M284.4 67.1h.9M284.0 63.4h.9M275.6 77.1h.9M287.5 66.5h.9M283.8 80.5h.9M291.7 66.1h.9M297.4 69.7h.9M288.0 82.2h.9M284.5 70.3h.9M290.9 73.7h.9M296.7 70.4h.9M281.9 71.2h.9M292.5 74.0h.9M271.5 76.6h.9M284.6 81.3h.9M288.1 69.5h.9M292.2 68.0h.9M284.2 70.5h.9M286.2 63.6h.9M291.4 64.2h.9M279.3 72.4h.9M291.4 72.5h.9M279.4 71.2h.9M290.0 73.2h.9M280.5 70.2h.9M282.9 73.1h.9M275.5 72.5h.9M279.6 77.1h.9M293.3 73.6h.9M275.9 70.0h.9M269.2 74.1h.9M289.9 68.2h.9M280.7 77.4h.9M287.9 77.8h.9M284.7 79.6h.9M266.4 82.3h.9M300.6 62.4h.9M291.8 69.4h.9M281.4 67.7h.9M291.6 67.7h.9M280.6 61.0h.9M278.2 75.8h.9M285.2 73.7h.9M291.2 69.0h.9M279.8 80.4h.9M280.9 72.8h.9M292.7 75.4h.9M280.2 72.4h.9M297.3 61.8h.9M300.0 71.5h.9M281.8 70.0h.9M291.7 82.5h.9M273.6 70.8h.9M282.9 66.9h.9M296.5 67.6h.9M271.5 87.0h.9M283.5 71.0h.9M285.3 77.5h.9M290.6 59.8h.9M272.4 79.9h.9M274.2 78.8h.9M273.3 74.8h.9M284.4 80.8h.9M276.7 73.9h.9M277.1 72.6h.9M295.3 70.0h.9M276.8 80.8h.9M294.9 72.1h.9M279.0 72.8h.9M303.6 68.6h.9M279.5 77.6h.9M293.3 60.4h.9M279.3 79.3h.9M280.7 73.1h.9M280.7 71.5h.9M284.9 67.7h.9M281.9 71.6h.9M279.5 78.8h.9M294.0 77.7h.9M293.2 70.7h.9M279.8 81.6h.9M301.8 69.5h.9M279.2 82.8h.9M298.4 62.1h.9M284.3 70.2h.9M273.9 74.0h.9M277.3 79.0h.9M292.5 63.3h.9M288.0 71.3h.9M277.3 75.0h.9M275.0 68.7h.9M304.9 60.8h.9M280.6 72.5h.9M292.4 70.9h.9M271.0 78.5h.9M287.8 66.4h.9M270.9 78.9h.9M282.9 79.8h.9M275.2 72.1h.9M279.7 79.4h.9M283.3 78.5h.9M288.3 70.3h.9M289.8 74.0h.9M289.9 72.0h.9M291.8 68.3h.9M286.8 70.8h.9M283.2 72.1h.9M281.7 62.8h.9M275.6 73.5h.9M284.5 68.1h.9M275.8 71.9h.9M283.6 79.3h.9M275.7 83.2h.9M277.8 69.4h.9M278.2 82.0h.9M280.5 78.8h.9M282.9 70.6h.9M279.8 81.7h.9M293.6 73.0h.9M284.7 77.2h.9M285.0 78.3h.9M279.3 79.8h.9M295.7 71.5h.9M281.8 67.9h.9M276.8 69.1h.9M281.9 82.9h.9M289.9 74.9h.9M282.7 76.9h.9M295.0 70.8h.9M285.1 76.3h.9M286.7 77.4h.9M284.0 76.5h.9M275.5 78.0h.9M278.1 77.0h.9M279.8 72.2h.9M281.7 80.5h.9M286.6 75.8h.9M279.2 69.4h.9M284.7 79.5h.9M284.0 63.5h.9M281.7 70.7h.9M271.4 78.8h.9M283.1 70.1h.9M281.5 71.2h.9M290.4 69.5h.9M292.6 75.7h.9M292.1 68.6h.9M286.2 64.6h.9M268.8 69.3h.9M271.6 71.6h.9M288.4 82.7h.9M296.0 59.9h.9M275.9 77.8h.9M288.0 70.8h.9M291.2 70.1h.9M273.5 76.1h.9M285.9 78.3h.9M269.7 76.8h.9M281.2 71.4h.9M287.9 69.0h.9M285.1 63.3h.9M296.3 63.1h.9M286.0 78.4h.9M287.6 70.3h.9M281.4 78.1h.9M285.0 72.2h.9M271.0 77.5h.9M284.3 64.3h.9M280.9 73.1h.9M270.8 77.6h.9M280.8 79.4h.9M270.6 72.6h.9M273.8 78.0h.9M284.4 71.1h.9M286.3 70.0h.9M301.2 67.3h.9M282.0 68.9h.9M289.5 82.3h.9M281.0 72.4h.9M271.2 75.0h.9M284.3 69.9h.9M287.5 75.1h.9M279.0 71.6h.9M285.4 72.7h.9M287.1 71.3h.9M287.7 67.3h.9M282.0 68.5h.9M281.2 73.3h.9M289.3 67.1h.9M287.3 70.5h.9M283.2 72.2h.9M293.2 75.9h.9M278.6 76.2h.9M278.7 77.2h.9M286.3 72.3h.9M268.6 85.6h.9M276.6 74.5h.9M285.0 84.2h.9M283.7 78.6h.9M277.3 79.5h.9M274.3 78.8h.9M279.8 71.7h.9M267.4 82.6h.9M286.5 78.9h.9M287.7 71.1h.9M289.7 70.3h.9M288.1 73.7h.9M284.0 69.8h.9M286.1 71.3h.9M289.7 75.0h.9M280.2 75.5h.9M293.4 71.0h.9M293.3 69.3h.9M282.9 70.4h.9M288.5 67.1h.9M270.2 78.3h.9M287.8 76.1h.9M283.8 78.5h.9M290.4 64.2h.9M262.2 83.3h.9M286.7 72.4h.9M275.4 70.9h.9M282.5 73.5h.9M280.3 75.6h.9M286.2 67.4h.9M302.6 68.9h.9M293.4 66.3h.9M272.5 76.3h.9M279.9 73.8h.9M279.8 75.1h.9M290.5 76.7h.9M283.5 66.3h.9M287.7 73.9h.9M293.4 72.4h.9M283.6 84.0h.9M290.0 73.4h.9M294.7 65.6h.9M284.6 74.7h.9M284.6 72.1h.9M287.6 68.9h.9M283.5 76.0h.9M282.2 78.9h.9M272.9 69.0h.9M287.6 70.3h.9M290.8 75.0h.9M279.3 74.7h.9M286.2 78.3h.9M286.1 70.3h.9M279.4 77.6h.9M275.8 78.8h.9M278.4 72.8h.9M290.6 69.6h.9M302.8 65.9h.9M278.2 76.1h.9M288.1 76.5h.9M286.7 76.6h.9M271.4 82.7h.9M279.2 77.8h.9M283.3 74.7h.9M286.2 77.4h.9M294.5 66.4h.9M278.4 71.3h.9M283.7 69.5h.9M283.3 77.7h.9M275.8 79.4h.9M289.7 71.4h.9M283.5 80.4h.9M299.3 67.4h.9M297.9 69.8h.9M282.5 76.2h.9M279.4 77.1h.9M289.4 72.1h.9M276.3 76.1h.9M281.8 67.8h.9M275.8 74.3h.9M288.4 68.5h.9M289.6 68.9h.9M277.6 80.1h.9M278.0 83.4h.9M291.3 71.8h.9M279.2 87.0h.9M290.9 62.3h.9M280.7 72.8h.9M291.7 71.1h.9M285.1 60.8h.9M284.8 73.1h.9M282.1 78.6h.9M282.8 72.3h.9M285.5 63.7h.9M289.3 75.4h.9M284.3 83.2h.9M281.9 64.8h.9M281.1 79.6h.9M288.9 62.3h.9M284.9 76.1h.9M291.1 67.7h.9M287.2 65.3h.9M293.4 69.0h.9M285.6 68.7h.9M305.1 71.5h.9M290.4 69.1h.9M292.7 70.6h.9M294.6 68.2h.9M287.6 75.8h.9M290.4 66.4h.9M290.2 80.5h.9M294.8 69.1h.9M289.4 71.8h.9M280.5 75.3h.9M283.3 74.6h.9M287.9 69.8h.9M294.7 65.8h.9M289.0 69.1h.9M280.4 76.5h.9M283.6 78.6h.9M301.1 66.7h.9M284.5 72.1h.9M294.2 70.7h.9M279.0 80.5h.9M286.4 74.9h.9M282.1 83.0h.9M276.7 77.1h.9M284.2 73.5h.9M282.0 71.2h.9M278.1 72.1h.9M290.5 71.4h.9M287.8 69.7h.9M299.8 69.2h.9M284.3 72.0h.9M281.9 74.9h.9M293.2 78.6h.9M289.5 75.1h.9M271.2 75.8h.9M282.3 69.4h.9M277.0 74.5h.9M294.4 74.4h.9M276.7 71.8h.9M277.1 77.1h.9M270.1 88.3h.9M287.6 69.6h.9M290.6 70.3h.9M285.7 75.7h.9M281.0 66.7h.9M292.7 75.8h.9M276.6 75.5h.9M278.8 78.9h.9M268.8 69.9h.9M267.0 83.3h.9M262.9 65.2h.9M284.1 91.7h.9M306.8 74.6h.9M270.2 79.6h.9M299.1 77.0h.9M279.6 86.9h.9M276.4 73.6h.9M265.5 81.1h.9M261.1 76.5h.9M278.4 64.4h.9M257.1 79.0h.9M292.3 76.9h.9M289.0 97.4h.9M265.9 98.9h.9M262.1 73.9h.9M284.4 72.2h.9M272.3 70.4h.9M281.9 68.4h.9M271.6 91.8h.9M279.9 76.7h.9M272.0 78.5h.9M271.1 67.5h.9M278.1 92.4h.9M278.1 86.9h.9M286.9 97.4h.9M269.2 73.6h.9M291.8 78.0h.9M273.5 94.1h.9M272.2 88.5h.9M287.6 65.1h.9M292.3 64.9h.9M291.1 71.4h.9M269.0 66.6h.9M276.4 91.5h.9M291.6 71.5h.9M270.6 84.3h.9M272.1 88.6h.9M270.2 90.2h.9M282.9 83.1h.9M273.1 88.4h.9M278.0 72.2h.9M278.6 74.2h.9M277.7 83.5h.9M279.3 80.2h.9M286.0 92.7h.9M264.6 86.0h.9M273.0 81.8h.9M278.1 78.4h.9M276.3 66.9h.9M301.6 63.7h.9M262.9 83.5h.9M271.9 82.0h.9M271.5 77.4h.9M280.0 78.3h.9M300.9 64.3h.9M265.6 62.9h.9M272.7 85.4h.9M278.9 84.7h.9M276.1 70.3h.9M280.1 74.4h.9M269.5 109.9h.9M280.6 74.2h.9M279.0 86.9h.9M279.0 68.6h.9M267.5 102.4h.9M282.3 56.9h.9M287.3 75.9h.9M271.8 82.4h.9M294.3 69.9h.9M273.3 85.1h.9M286.4 80.8h.9M272.7 72.5h.9M270.3 72.5h.9M272.7 91.1h.9M288.8 74.5h.9M255.1 75.4h.9M289.4 90.7h.9M291.6 67.6h.9M291.0 69.3h.9M290.8 51.2h.9M284.3 77.4h.9M277.7 86.3h.9M272.4 94.1h.9M266.3 79.5h.9M298.5 101.2h.9M263.1 103.5h.9M277.7 93.0h.9M293.7 90.9h.9M281.6 77.1h.9M246.9 82.9h.9M265.3 71.5h.9M284.0 74.9h.9M282.8 79.1h.9M285.0 74.0h.9M287.1 68.8h.9M295.0 74.5h.9M294.4 75.4h.9M280.6 75.3h.9M268.6 90.4h.9M298.8 69.5h.9M306.5 60.1h.9M274.1 67.8h.9M276.1 79.0h.9M257.8 93.0h.9M269.1 105.1h.9M279.4 70.2h.9M265.8 89.8h.9M275.7 80.0h.9M287.5 68.6h.9M278.4 62.5h.9M291.8 90.7h.9M263.5 92.6h.9M280.4 85.2h.9M268.1 93.3h.9M280.7 74.1h.9M283.7 107.5h.9M272.3 61.4h.9M270.8 86.3h.9M284.7 90.3h.9M270.2 71.8h.9M296.3 65.0h.9M291.0 73.6h.9M288.2 68.2h.9M290.0 66.6h.9M286.3 81.3h.9M265.2 89.7h.9M298.1 87.6h.9M278.9 87.7h.9M281.7 95.5h.9M273.4 93.2h.9M266.5 80.5h.9M283.6 75.1h.9M277.9 81.5h.9M276.0 83.2h.9M272.9 65.9h.9M274.4 91.2h.9M289.7 77.3h.9M275.4 84.2h.9M288.4 57.9h.9M293.7 87.3h.9M284.5 71.5h.9M285.9 68.5h.9M263.2 68.8h.9M308.6 63.2h.9M274.7 76.7h.9M275.5 95.0h.9M296.9 63.1h.9M264.5 84.6h.9M287.2 84.9h.9M274.0 70.1h.9M277.1 66.0h.9M263.3 72.8h.9M259.7 76.9h.9M269.5 70.7h.9M287.6 85.3h.9M276.1 98.5h.9M280.1 80.7h.9M280.2 86.7h.9M288.8 85.2h.9M282.4 91.2h.9M278.3 89.1h.9M282.9 72.0h.9M288.8 68.5h.9M285.2 85.1h.9M309.4 93.5h.9M287.2 88.5h.9M254.1 71.0h.9M289.8 88.9h.9M305.5 67.1h.9M284.3 70.2h.9M265.5 69.3h.9M273.0 77.6h.9M289.7 79.7h.9M248.4 110.3h.9M273.2 84.5h.9M286.8 76.8h.9M265.8 93.7h.9M269.1 85.9h.9M245.7 88.6h.9M276.5 88.9h.9M269.6 74.8h.9M287.7 70.0h.9M270.5 72.8h.9M291.8 76.1h.9M265.8 84.6h.9M280.8 70.0h.9M258.8 103.3h.9M285.2 87.0h.9M264.5 106.6h.9M291.3 68.7h.9M280.3 74.9h.9M287.5 68.2h.9M290.7 74.4h.9M269.8 70.9h.9M291.5 63.7h.9M275.6 89.0h.9M259.6 56.7h.9M278.8 71.4h.9M274.5 69.2h.9M278.7 72.4h.9M257.8 106.6h.9M280.2 78.6h.9M280.9 80.8h.9M282.3 77.1h.9M274.2 94.3h.9M283.8 92.2h.9M270.8 75.3h.9M290.7 61.8h.9M281.6 82.7h.9M265.3 84.8h.9M290.7 79.5h.9M265.0 86.2h.9M283.8 92.7h.9M275.4 82.5h.9M305.8 73.5h.9M273.5 86.3h.9M275.5 68.0h.9M279.0 78.9h.9M261.3 80.5h.9M265.6 91.9h.9M261.9 82.9h.9M282.8 91.7h.9M268.9 71.0h.9M284.9 81.6h.9M283.0 59.3h.9M270.8 75.6h.9M265.4 77.5h.9M291.0 60.6h.9M259.8 86.0h.9M280.2 82.1h.9M293.9 80.7h.9M279.7 84.9h.9M283.8 55.0h.9M302.9 57.6h.9M285.1 83.7h.9M263.5 90.2h.9M283.8 81.5h.9M259.7 86.6h.9M271.4 83.6h.9M286.6 83.6h.9M279.6 66.8h.9M272.4 85.5h.9M280.3 77.5h.9M271.9 81.7h.9M274.1 89.3h.9M272.6 100.9h.9M269.6 85.7h.9M274.0 77.2h.9M251.1 101.2h.9M281.6 94.4h.9M286.3 64.1h.9M276.4 70.4h.9M287.3 67.0h.9M271.1 95.7h.9M278.5 81.0h.9M298.1 72.5h.9M268.3 76.2h.9M275.6 80.8h.9M277.5 69.5h.9M279.3 68.6h.9M276.6 86.7h.9M274.6 81.8h.9M294.5 91.7h.9M302.9 74.4h.9M275.8 83.8h.9M282.0 75.0h.9M281.3 61.6h.9M269.8 68.1h.9M277.6 94.9h.9M301.1 42.8h.9M277.4 84.2h.9M280.1 84.4h.9M276.9 92.5h.9M262.3 94.7h.9M261.0 75.9h.9M272.6 71.0h.9M279.7 107.8h.9M265.9 75.7h.9M279.8 79.9h.9M283.3 89.8h.9M254.1 69.5h.9M263.1 87.8h.9M292.2 86.2h.9M272.9 68.9h.9M291.2 70.7h.9M279.2 98.3h.9M277.4 76.0h.9M261.0 90.1h.9M266.6 93.7h.9M275.0 80.9h.9M273.1 79.7h.9M284.1 74.4h.9M286.4 77.7h.9M276.3 79.5h.9M279.1 77.5h.9M262.6 94.2h.9M282.3 74.0h.9M271.3 84.4h.9M278.5 77.7h.9M279.4 84.7h.9M264.8 72.6h.9M272.8 53.9h.9M277.8 94.7h.9M267.5 91.8h.9M267.8 89.3h.9M270.6 68.9h.9M282.3 70.4h.9M280.0 99.4h.9M285.2 79.6h.9M271.5 77.4h.9M290.0 62.0h.9M290.0 67.2h.9M278.9 78.3h.9M283.0 82.7h.9M292.5 79.6h.9M294.4 68.0h.9M270.4 78.1h.9M297.1 72.7h.9M289.5 80.8h.9M271.5 86.5h.9M284.5 87.5h.9M269.6 77.0h.9M280.4 85.8h.9M277.9 83.5h.9M279.3 78.6h.9M278.7 63.3h.9M264.5 84.9h.9M267.7 71.8h.9M272.3 76.0h.9M245.4 96.5h.9M293.1 79.7h.9M255.8 74.7h.9M281.5 88.7h.9M293.9 75.9h.9M277.6 69.5h.9M279.1 74.6h.9M304.6 85.4h.9M278.4 71.8h.9M270.4 86.7h.9M264.9 89.0h.9M276.0 83.9h.9M275.9 80.4h.9M289.5 91.4h.9M281.6 71.5h.9M285.2 81.9h.9M280.5 90.2h.9M292.4 72.0h.9M278.6 77.2h.9M265.5 68.1h.9M277.0 83.7h.9M291.1 68.9h.9M262.2 89.8h.9M271.9 83.6h.9M280.6 67.9h.9M289.9 86.5h.9M267.0 82.0h.9M268.8 87.4h.9M287.5 78.2h.9M277.7 62.6h.9M256.1 77.9h.9M264.7 74.2h.9M277.7 79.0h.9M269.8 62.0h.9M279.4 79.5h.9M286.4 73.2h.9M265.4 83.3h.9M269.5 74.6h.9M278.9 88.0h.9M261.4 106.0h.9M283.0 93.7h.9M294.0 80.4h.9M280.0 72.1h.9M270.1 90.7h.9M258.1 80.8h.9M273.1 79.1h.9M269.9 65.4h.9M271.4 89.3h.9M279.7 63.8h.9M294.7 83.7h.9M277.6 77.6h.9M274.2 84.6h.9M280.9 87.6h.9M280.7 89.3h.9M289.8 72.0h.9M282.4 78.8h.9M275.2 76.1h.9M287.3 84.7h.9M276.3 68.0h.9M278.9 92.1h.9M281.8 79.7h.9M285.0 73.1h.9M273.3 94.9h.9M275.6 80.1h.9M295.1 70.6h.9M280.6 91.7h.9M262.6 98.9h.9M263.4 80.6h.9M272.8 96.1h.9M270.2 96.0h.9M283.1 94.6h.9M288.3 80.4h.9M264.2 83.9h.9M291.4 75.2h.9M281.0 86.2h.9M268.3 80.7h.9M282.0 91.4h.9M280.1 76.5h.9M293.4 78.2h.9M253.1 86.6h.9M276.9 93.1h.9M281.4 74.4h.9M283.4 67.9h.9M280.8 86.9h.9M282.4 87.9h.9M269.9 74.8h.9M272.3 100.4h.9M295.1 88.0h.9M275.1 85.7h.9M246.8 78.8h.9M297.0 74.0h.9M275.2 73.0h.9M267.8 96.1h.9M286.1 67.1h.9M281.2 100.0h.9M297.9 67.8h.9M271.8 66.5h.9M270.7 69.2h.9M292.7 88.4h.9M278.4 90.7h.9M275.1 88.4h.9M263.0 80.9h.9M286.6 84.6h.9M282.4 72.9h.9M276.5 101.2h.9M279.2 71.3h.9M274.8 87.8h.9M287.9 80.5h.9M273.9 86.3h.9M259.9 113.2h.9M277.1 94.8h.9M258.2 111.6h.9M286.7 78.3h.9M274.5 78.3h.9M277.5 85.3h.9M276.1 77.8h.9M261.7 77.0h.9M271.1 88.0h.9M262.1 67.4h.9M253.3 82.5h.9M289.9 79.5h.9M281.5 74.2h.9M296.0 61.6h.9M280.5 87.9h.9M282.3 81.0h.9M270.5 80.4h.9M296.6 89.4h.9M293.2 83.6h.9M286.3 92.3h.9M287.2 80.3h.9M274.1 82.6h.9M271.1 78.8h.9M276.8 78.3h.9M271.0 86.9h.9M288.8 68.5h.9M274.0 74.7h.9M268.8 94.6h.9M266.4 82.9h.9M287.9 85.6h.9M293.5 73.3h.9M274.7 78.9h.9M271.3 75.0h.9M269.3 75.0h.9M298.1 81.5h.9M272.4 61.7h.9M265.1 83.8h.9M309.9 54.3h.9M272.1 91.2h.9M262.1 94.0h.9M267.1 79.3h.9M285.9 93.5h.9M274.8 86.7h.9M294.1 63.9h.9M294.6 77.2h.9M287.2 78.5h.9M298.5 87.0h.9M289.8 73.6h.9M255.9 103.3h.9M289.9 79.2h.9M274.5 95.3h.9M297.5 68.1h.9M308.8 78.5h.9M275.0 79.1h.9M275.2 90.2h.9M298.7 83.8h.9M270.3 67.7h.9M274.7 103.1h.9M270.2 95.2h.9M292.0 81.4h.9M266.3 101.7h.9M259.3 88.7h.9M274.6 96.1h.9M282.4 59.0h.9M285.4 76.8h.9M272.9 83.7h.9M278.3 80.5h.9M281.0 86.5h.9M273.5 85.2h.9M273.4 80.6h.9M268.1 84.4h.9M263.3 94.3h.9M271.4 78.6h.9M282.5 80.3h.9M274.5 77.6h.9M289.2 73.1h.9M280.2 86.8h.9M265.1 89.3h.9M295.8 65.4h.9M287.6 58.6h.9M272.3 93.7h.9M280.5 72.4h.9M268.8 68.9h.9M271.9 83.1h.9M255.3 88.7h.9M265.2 84.8h.9M263.3 82.9h.9M269.1 84.4h.9M285.0 74.4h.9M276.4 88.3h.9M268.8 99.8h.9M300.1 58.6h.9M294.3 63.7h.9M264.7 77.3h.9M290.0 73.7h.9M290.4 90.7h.9M278.6 88.1h.9M259.4 91.9h.9M272.5 74.9h.9M282.1 91.1h.9M265.6 92.2h.9M280.3 71.0h.9M291.9 71.9h.9M251.8 75.8h.9M306.6 74.8h.9M295.1 71.7h.9M294.6 77.6h.9M272.2 89.2h.9M271.1 88.7h.9M284.0 99.1h.9M264.4 85.9h.9M284.3 74.0h.9M280.9 80.7h.9M287.8 81.8h.9M280.1 84.8h.9M281.9 86.3h.9M298.7 83.8h.9M277.8 87.9h.9M279.1 94.4h.9M273.0 89.4h.9M270.2 69.1h.9M274.5 81.5h.9M295.5 96.5h.9M295.7 68.0h.9M272.9 98.3h.9M259.4 82.9h.9M290.8 79.0h.9M291.2 91.8h.9M277.4 85.3h.9M272.6 83.7h.9M273.2 78.4h.9M275.8 78.5h.9M267.5 74.3h.9M294.7 73.8h.9M270.5 77.2h.9M274.1 73.1h.9M250.2 87.2h.9M257.6 89.8h.9M272.8 83.7h.9M287.3 85.9h.9M269.0 86.6h.9M299.0 89.7h.9M266.2 94.2h.9M282.7 82.0h.9M284.6 91.3h.9M287.3 74.9h.9M293.2 85.4h.9M261.1 95.7h.9M281.7 96.4h.9M275.5 73.4h.9M271.7 94.0h.9M288.8 91.0h.9M265.5 71.7h.9M274.7 84.6h.9M260.9 96.9h.9M282.7 83.8h.9M267.6 74.4h.9M275.2 81.0h.9M279.6 110.1h.9M282.8 66.9h.9M282.1 71.2h.9M284.9 77.4h.9M260.5 81.7h.9M281.5 57.4h.9M276.0 100.3h.9M282.7 59.0h.9M283.5 91.1h.9M270.1 91.7h.9M273.9 90.0h.9M294.7 91.5h.9M271.6 74.6h.9M273.4 67.9h.9M284.6 90.2h.9M296.6 80.4h.9M261.2 101.4h.9M283.8 67.4h.9M273.7 70.8h.9M288.2 70.8h.9M283.5 85.2h.9M250.1 83.9h.9M263.9 69.8h.9M253.8 68.6h.9M256.1 74.0h.9M261.3 76.3h.9M262.9 71.0h.9M264.9 65.2h.9M252.5 77.3h.9M260.3 76.9h.9M243.3 70.0h.9M228.5 66.8h.9M264.5 74.9h.9M230.1 80.7h.9M253.8 70.4h.9M257.9 69.5h.9M259.8 66.8h.9M263.5 72.1h.9M261.5 67.7h.9M251.0 97.0h.9M256.8 73.1h.9M241.2 92.4h.9M263.2 81.4h.9M265.2 72.9h.9M245.5 68.7h.9M265.2 77.4h.9M264.5 81.3h.9M246.8 97.3h.9M254.0 68.7h.9M264.5 84.2h.9M259.3 70.5h.9M264.7 65.5h.9M265.0 67.8h.9M263.1 74.7h.9M246.6 68.7h.9M260.1 69.6h.9M265.4 68.9h.9M261.4 114.1h.9M255.5 105.0h.9M242.9 68.6h.9M262.0 83.6h.9M258.4 69.6h.9M256.0 94.9h.9M230.1 88.7h.9M261.1 79.1h.9M238.4 84.9h.9M247.6 94.2h.9M256.7 69.3h.9M260.2 74.0h.9M235.5 81.5h.9M242.6 77.6h.9M248.8 76.3h.9M257.3 70.9h.9M259.9 79.8h.9M263.6 82.7h.9M239.0 84.4h.9M251.6 88.7h.9M263.1 66.1h.9M262.0 81.1h.9M265.3 74.1h.9M263.7 86.6h.9M231.5 68.8h.9M263.2 67.4h.9M260.5 69.5h.9M259.3 68.0h.9M263.0 67.9h.9M260.1 71.6h.9M260.2 75.1h.9M265.0 73.0h.9M263.8 72.2h.9M258.7 72.1h.9M253.7 67.7h.9M253.6 70.2h.9M237.2 85.8h.9M264.4 72.7h.9M263.2 77.2h.9M236.5 67.3h.9M257.8 75.0h.9M258.6 75.3h.9M252.1 70.4h.9M240.3 72.7h.9M242.3 64.7h.9M256.8 75.9h.9M254.8 67.7h.9M262.1 67.1h.9M251.2 68.9h.9M263.3 69.5h.9M264.3 90.3h.9M264.7 72.1h.9M254.4 87.0h.9M258.0 99.5h.9M263.3 78.8h.9M242.2 66.8h.9M255.1 67.6h.9M264.9 99.7h.9M261.4 69.1h.9M241.5 80.6h.9M227.6 69.2h.9M265.2 85.5h.9M254.0 67.7h.9M240.9 77.0h.9M226.3 68.1h.9M263.0 72.1h.9M264.4 71.1h.9M262.9 93.0h.9M255.5 75.1h.9M258.5 63.1h.9M259.2 76.2h.9M255.1 67.6h.9M265.1 76.3h.9M254.1 76.3h.9M252.9 72.7h.9M259.5 70.2h.9M257.2 78.9h.9M260.6 67.7h.9M265.3 67.1h.9M261.1 80.1h.9M263.0 84.6h.9M257.3 71.1h.9M263.8 81.6h.9M251.9 83.8h.9M244.5 67.6h.9M263.0 95.8h.9M253.5 72.1h.9M251.4 69.2h.9M256.7 73.1h.9M256.9 86.6h.9M255.4 67.1h.9M264.0 71.8h.9M265.1 68.3h.9M254.4 77.3h.9M250.1 67.8h.9M256.0 69.5h.9M251.1 72.1h.9M255.1 71.5h.9M255.5 69.1h.9M262.2 71.9h.9M264.9 67.3h.9M264.8 75.2h.9M259.8 67.1h.9M262.5 65.9h.9M255.7 71.3h.9M260.0 114.8h.9M261.8 68.8h.9M226.2 97.7h.9M260.6 76.5h.9M251.7 69.2h.9M252.5 69.0h.9M232.3 85.2h.9M259.9 98.5h.9M265.0 81.8h.9M265.4 75.7h.9M215.6 75.7h.9M248.8 93.2h.9M224.8 82.1h.9M258.6 81.9h.9M247.7 93.8h.9M263.7 86.7h.9M257.7 66.8h.9M264.2 68.8h.9M262.0 86.3h.9M253.4 76.6h.9M244.5 68.4h.9M255.6 75.5h.9M258.6 80.8h.9M259.5 68.2h.9M264.3 68.1h.9M258.2 82.1h.9M256.6 90.0h.9M240.8 75.3h.9M263.9 75.8h.9M265.1 70.1h.9M260.5 82.9h.9M264.4 72.4h.9M264.3 72.8h.9M246.4 72.2h.9M259.0 71.6h.9M237.9 71.8h.9M238.3 87.3h.9M255.8 83.8h.9M223.9 87.4h.9M252.5 68.5h.9M237.5 68.9h.9M247.1 85.1h.9M254.5 90.3h.9M263.1 77.0h.9M247.5 96.2h.9M244.2 69.6h.9M250.9 70.5h.9M256.6 71.6h.9M260.5 66.4h.9M263.3 68.0h.9M237.5 66.9h.9M256.7 67.9h.9M209.6 69.8h.9M244.4 63.6h.9M264.2 67.6h.9M262.8 82.1h.9M264.5 70.0h.9M262.5 77.1h.9M256.3 75.1h.9M253.3 64.0h.9M261.7 73.0h.9M255.2 73.9h.9M253.0 77.2h.9M257.3 65.6h.9M245.2 70.8h.9M220.3 70.5h.9M251.9 71.8h.9M262.8 88.9h.9M260.5 77.5h.9M261.5 106.8h.9M262.9 80.1h.9M246.7 80.5h.9M250.9 66.6h.9M251.8 76.1h.9M265.0 100.4h.9M253.2 64.5h.9M259.4 74.3h.9M260.7 90.7h.9M265.1 80.3h.9M264.9 66.7h.9M264.6 66.5h.9M261.7 72.8h.9M262.8 66.9h.9M259.1 97.7h.9M249.9 78.4h.9M264.5 67.2h.9M257.6 68.9h.9M243.4 71.5h.9M257.1 85.7h.9M242.4 73.2h.9M252.2 70.3h.9M261.7 85.8h.9M262.3 75.2h.9M245.8 80.1h.9M229.4 75.3h.9M218.9 100.6h.9M217.8 68.7h.9M250.7 86.7h.9M253.9 77.2h.9M231.9 101.4h.9M258.9 70.9h.9M263.8 138.1h.9M254.6 68.7h.9M257.5 69.0h.9M262.6 74.9h.9M259.4 78.9h.9M260.1 67.9h.9M265.4 106.5h.9M236.0 76.8h.9M256.3 69.8h.9M263.3 76.6h.9M253.8 63.8h.9M231.2 75.1h.9M264.1 70.5h.9M262.9 69.1h.9M245.9 74.7h.9M239.2 88.4h.9M211.4 65.7h.9M262.6 72.9h.9M263.7 86.2h.9M259.1 98.4h.9M247.6 81.6h.9M237.4 84.4h.9M250.3 80.3h.9M249.4 72.5h.9M251.5 68.8h.9M264.0 91.7h.9M256.5 86.3h.9M241.6 79.5h.9M265.5 80.1h.9M247.0 68.8h.9M246.7 68.3h.9M263.9 68.7h.9M253.2 68.1h.9M254.7 67.6h.9M264.6 83.8h.9M255.4 82.2h.9M264.3 87.9h.9M265.1 93.8h.9M261.1 76.8h.9M254.5 76.9h.9M265.1 65.6h.9M255.8 66.7h.9M256.0 136.4h.9M246.3 71.0h.9M221.3 91.0h.9M261.3 92.6h.9M238.4 78.4h.9M252.6 68.2h.9M257.9 80.5h.9M261.7 80.9h.9M260.1 66.5h.9M263.2 75.1h.9M264.3 72.1h.9M253.1 81.7h.9M241.0 105.0h.9M236.3 79.9h.9M263.5 69.7h.9M249.0 68.0h.9M256.8 70.2h.9M264.0 94.2h.9M250.7 68.1h.9M257.6 95.8h.9M256.3 98.4h.9M264.3 78.7h.9M256.1 80.3h.9M252.4 70.8h.9M259.1 87.6h.9M260.4 66.8h.9M259.3 87.9h.9M265.5 70.1h.9M248.3 72.3h.9M262.3 131.1h.9M225.1 67.6h.9M235.0 86.0h.9M263.1 91.9h.9M254.9 68.7h.9M262.3 73.4h.9M263.0 80.4h.9M239.2 66.2h.9M260.0 78.2h.9M242.5 70.5h.9M255.6 67.7h.9M256.3 76.9h.9M240.8 69.6h.9M263.6 89.0h.9M260.1 74.7h.9M265.1 67.5h.9M252.5 72.4h.9M228.9 79.0h.9M262.5 86.5h.9M242.1 87.4h.9M259.4 73.3h.9M255.4 69.2h.9M249.4 69.8h.9M262.5 69.3h.9M259.5 80.0h.9M263.6 68.1h.9M252.3 77.6h.9M245.4 69.6h.9M247.1 72.1h.9M258.8 70.5h.9M257.7 68.8h.9M238.7 81.1h.9M258.0 72.1h.9M258.8 79.4h.9M263.1 71.6h.9M261.2 66.8h.9M265.2 77.8h.9M253.6 68.8h.9M246.1 77.4h.9M235.9 83.7h.9M255.8 72.0h.9M265.1 69.6h.9M257.7 69.0h.9M259.1 69.8h.9M255.8 78.5h.9M265.1 92.0h.9M262.9 90.4h.9M254.3 76.6h.9M244.9 70.0h.9M261.0 74.6h.9M265.2 72.8h.9M247.5 79.2h.9M249.7 84.1h.9M259.4 74.4h.9M254.6 68.1h.9M236.8 70.4h.9M260.2 65.5h.9M258.6 67.1h.9M264.6 100.1h.9M264.2 75.8h.9M262.0 94.3h.9M264.7 70.4h.9M251.5 69.4h.9M262.6 78.1h.9M247.7 61.6h.9M259.7 68.2h.9M264.9 66.5h.9M263.3 68.1h.9M250.3 86.8h.9M258.8 87.1h.9M264.5 75.1h.9M265.4 65.7h.9M265.1 70.7h.9M260.1 72.1h.9M245.3 78.3h.9M236.2 83.1h.9M263.6 70.3h.9M243.8 77.1h.9M259.4 75.9h.9M264.5 70.8h.9M261.5 66.5h.9M253.1 74.7h.9M257.0 72.2h.9M263.4 81.9h.9M240.8 67.7h.9M262.0 69.8h.9M232.1 108.7h.9M261.2 66.3h.9M213.5 71.4h.9M264.8 87.4h.9M265.1 67.5h.9M255.6 67.1h.9M255.9 69.3h.9M253.0 68.0h.9M258.4 92.1h.9M225.5 70.8h.9M253.9 88.1h.9M234.3 70.4h.9M256.8 79.3h.9M249.5 85.9h.9M263.8 67.5h.9M256.2 67.4h.9M264.1 92.6h.9M263.6 85.4h.9M253.2 70.7h.9M238.2 101.7h.9M208.5 85.2h.9M252.0 89.9h.9M216.1 93.9h.9M259.3 79.1h.9M204.2 95.0h.9M203.4 84.8h.9M222.7 70.1h.9M253.4 88.3h.9M218.1 87.1h.9M214.8 96.7h.9M225.3 111.5h.9M216.8 68.8h.9M250.6 92.9h.9M216.5 97.4h.9M252.2 86.2h.9M235.2 83.9h.9M242.2 97.9h.9M252.8 89.2h.9M250.4 83.2h.9M209.0 94.9h.9M260.4 92.4h.9M236.1 70.0h.9M236.7 80.6h.9M258.1 107.8h.9M259.4 72.4h.9M239.6 88.2h.9M244.5 94.0h.9M250.3 71.0h.9M250.5 74.0h.9M252.0 79.0h.9M226.4 92.1h.9M202.2 71.3h.9M247.5 100.8h.9M241.9 96.3h.9M222.3 102.8h.9M247.5 75.6h.9M257.4 89.2h.9M225.6 105.8h.9M244.7 84.1h.9M262.5 90.6h.9M246.3 82.9h.9M209.4 99.4h.9M260.7 93.5h.9M208.5 100.0h.9M228.0 112.0h.9M212.8 101.4h.9M231.6 90.7h.9M221.4 76.1h.9M208.9 87.8h.9M255.1 110.7h.9M258.2 112.9h.9M230.9 71.1h.9M236.9 95.8h.9M234.2 68.2h.9M244.4 70.6h.9M202.0 81.1h.9M228.7 70.3h.9M228.2 94.7h.9M261.7 87.1h.9M249.3 81.8h.9M248.9 105.4h.9M201.1 80.4h.9M256.8 75.8h.9M235.2 77.3h.9M220.0 68.2h.9M227.5 98.4h.9M217.8 94.4h.9M244.3 83.2h.9M255.5 103.5h.9M252.0 79.4h.9M232.3 74.5h.9M234.3 68.5h.9M241.5 73.1h.9M206.5 84.7h.9M241.9 79.3h.9M252.9 84.5h.9M228.9 69.0h.9M230.2 68.3h.9M216.2 96.0h.9M231.6 83.1h.9M262.4 101.8h.9M236.6 105.1h.9M254.4 80.7h.9M251.7 85.1h.9M217.2 100.7h.9M203.3 71.5h.9M209.9 102.9h.9M251.6 80.9h.9M240.3 75.9h.9M210.8 85.6h.9M212.2 94.5h.9M260.5 104.7h.9M249.2 103.8h.9M229.5 68.5h.9M253.8 72.6h.9M262.0 79.7h.9M252.4 69.2h.9M232.9 84.6h.9M221.1 84.9h.9M219.5 88.3h.9M231.2 80.2h.9M229.1 75.5h.9M234.2 91.5h.9M215.5 69.1h.9M225.6 68.6h.9M223.3 99.6h.9M207.7 73.6h.9M257.8 72.4h.9M261.3 75.8h.9M233.5 90.8h.9M239.0 75.5h.9M207.3 95.3h.9M247.4 94.1h.9M223.8 82.6h.9M222.5 109.6h.9M251.4 100.2h.9M262.4 71.7h.9M240.7 75.1h.9M253.5 70.7h.9M254.1 97.9h.9M238.1 73.6h.9M254.7 84.9h.9M231.6 70.2h.9M227.9 106.8h.9M237.5 99.7h.9M231.3 95.4h.9M253.7 97.2h.9M230.6 80.7h.9M211.3 73.6h.9M211.6 68.1h.9M258.2 82.9h.9M246.5 108.6h.9M220.9 68.3h.9M229.6 73.7h.9M242.7 88.4h.9M212.7 69.6h.9M208.3 77.9h.9M231.5 100.0h.9M250.8 74.5h.9M203.3 78.2h.9M236.8 77.3h.9M245.2 74.2h.9M257.3 102.9h.9M204.8 110.9h.9M222.8 91.6h.9M259.9 76.1h.9M254.5 75.7h.9M206.1 96.7h.9M259.8 98.3h.9M223.8 103.5h.9M231.0 71.6h.9M235.6 73.9h.9M222.7 79.8h.9M245.8 83.7h.9M227.2 103.4h.9M209.6 70.0h.9M230.8 78.0h.9M233.9 70.9h.9M228.2 102.9h.9M254.3 97.8h.9M245.9 103.0h.9M221.0 78.8h.9M231.1 88.4h.9M257.8 107.4h.9M210.2 68.2h.9M241.2 102.6h.9M251.0 100.9h.9M256.2 84.0h.9M206.1 101.2h.9M220.0 100.3h.9M247.4 73.2h.9M254.0 112.0h.9M211.4 110.4h.9M256.4 76.2h.9M234.1 111.2h.9M224.3 89.4h.9M205.1 87.6h.9M223.1 101.2h.9M258.3 109.0h.9M234.2 76.2h.9M207.1 71.1h.9M249.7 104.7h.9M259.2 84.4h.9M260.5 89.6h.9M212.7 86.1h.9M205.4 106.9h.9M238.1 90.5h.9M247.6 97.5h.9M242.1 100.9h.9M254.7 67.8h.9M239.6 90.1h.9M237.4 92.3h.9M233.4 70.5h.9M258.4 72.7h.9M202.4 69.4h.9M227.2 83.1h.9M230.8 101.3h.9M213.2 75.7h.9M260.9 106.6h.9M229.9 69.4h.9M243.8 80.0h.9M226.2 75.2h.9M205.1 111.4h.9M260.0 72.7h.9M255.0 105.5h.9M244.9 88.0h.9M233.4 76.8h.9M213.1 83.3h.9M219.8 71.4h.9M232.4 92.5h.9M253.9 95.5h.9M235.3 84.4h.9M239.4 102.2h.9M258.0 100.8h.9M206.8 95.9h.9M212.2 100.0h.9M228.1 83.8h.9M251.0 72.3h.9M230.5 88.5h.9M246.6 85.3h.9M225.7 72.0h.9M261.4 97.0h.9M228.8 84.5h.9M231.7 96.0h.9M206.1 73.6h.9M230.9 75.3h.9M216.3 70.2h.9M252.4 108.6h.9M232.1 96.7h.9M246.5 78.4h.9M201.6 68.9h.9M203.7 79.6h.9M251.1 101.5h.9M227.4 108.1h.9M259.9 72.7h.9M232.4 109.5h.9M201.7 74.0h.9M256.7 68.5h.9M220.1 71.5h.9M234.6 68.1h.9M241.4 101.0h.9M213.2 86.1h.9M229.2 102.2h.9M215.1 70.2h.9M211.4 99.8h.9M225.7 71.6h.9M245.0 79.0h.9M229.2 110.1h.9M215.8 98.9h.9M213.7 98.9h.9M226.8 94.4h.9M238.4 81.0h.9M259.4 93.5h.9M257.9 83.8h.9M225.9 102.1h.9M242.2 95.9h.9M223.7 107.5h.9M234.2 104.6h.9M242.0 104.7h.9M253.3 70.2h.9M211.7 68.2h.9M249.6 81.6h.9M226.9 110.7h.9M258.6 92.4h.9M203.3 91.0h.9M256.1 104.0h.9M235.3 93.8h.9M214.3 70.8h.9M251.8 85.9h.9M225.9 106.3h.9M241.4 102.9h.9M203.3 69.2h.9M257.0 113.7h.9M254.0 88.2h.9M232.6 77.6h.9M223.4 83.8h.9M230.6 110.5h.9M254.5 107.9h.9M236.2 80.4h.9M260.2 94.0h.9M224.0 69.5h.9M246.2 102.2h.9M203.4 69.6h.9M241.9 98.1h.9M260.8 78.7h.9M262.2 72.2h.9M246.2 71.9h.9M250.1 112.2h.9M204.2 74.8h.9M216.5 85.7h.9M243.9 72.3h.9M250.2 86.7h.9M260.1 103.7h.9M257.5 75.9h.9M219.2 98.0h.9M260.6 80.4h.9M216.2 71.2h.9M242.2 103.3h.9M223.3 79.9h.9M227.9 94.1h.9M258.2 111.1h.9M218.2 98.5h.9M209.5 79.3h.9M258.1 92.9h.9M202.7 99.9h.9M214.7 74.6h.9M228.6 111.2h.9M222.4 75.0h.9M261.0 68.6h.9M252.1 88.7h.9M207.5 85.9h.9M210.6 72.3h.9M252.6 86.3h.9M232.5 76.8h.9M245.3 103.3h.9M254.3 86.7h.9M216.4 88.3h.9M223.8 71.9h.9M260.1 110.8h.9M224.3 76.1h.9M262.2 91.3h.9M258.8 101.3h.9M241.0 88.1h.9M261.4 78.9h.9M234.3 94.3h.9M223.3 98.2h.9M250.3 71.7h.9M222.3 76.2h.9M259.9 73.3h.9M259.2 68.2h.9M235.7 93.2h.9M261.7 113.7h.9M218.1 76.9h.9M208.5 110.2h.9M262.4 81.8h.9M215.2 108.9h.9M231.0 70.2h.9M202.4 78.8h.9M215.1 105.2h.9M207.7 108.6h.9M211.2 102.7h.9M211.3 96.3h.9M218.1 78.5h.9M207.5 112.9h.9M259.3 90.8h.9M214.8 103.6h.9M223.7 82.4h.9M244.2 110.2h.9M239.6 93.2h.9M258.0 97.9h.9M247.3 71.8h.9M221.1 83.1h.9M232.2 70.3h.9M205.9 80.4h.9M250.5 90.5h.9M252.0 77.6h.9M219.5 67.9h.9M203.8 83.9h.9M243.9 100.4h.9M242.3 81.5h.9M260.7 101.4h.9M251.7 81.9h.9M207.2 89.6h.9M202.3 78.1h.9M236.2 70.0h.9M211.2 101.6h.9M252.7 87.8h.9M225.7 102.3h.9M206.9 101.8h.9M245.0 101.4h.9M226.4 81.6h.9M219.1 77.7h.9M256.7 75.0h.9M250.3 85.6h.9M229.4 92.3h.9M250.3 106.0h.9M255.6 113.7h.9M255.6 98.8h.9M210.1 97.1h.9M260.8 69.0h.9M260.8 82.0h.9M260.9 100.7h.9M237.6 71.2h.9M257.3 83.7h.9M258.2 85.7h.9M257.0 88.7h.9M256.0 68.1h.9M252.1 102.5h.9M260.8 87.0h.9M246.3 75.1h.9M262.1 90.1h.9M228.1 77.0h.9M228.3 70.5h.9M256.8 68.3h.9M249.4 69.6h.9M262.8 79.8h.9M258.8 80.1h.9M238.8 69.0h.9M258.1 71.2h.9M243.0 73.0h.9M238.6 82.2h.9M257.3 67.8h.9M239.0 79.4h.9M260.6 84.7h.9M263.1 115.5h.9M223.4 97.9h.9M256.0 85.8h.9M256.5 69.0h.9M253.0 105.3h.9M253.1 76.2h.9M258.8 85.9h.9M260.6 90.7h.9M262.4 69.3h.9M258.3 77.2h.9M258.1 79.5h.9M259.9 82.3h.9M256.5 94.5h.9M254.5 68.6h.9M262.8 102.2h.9M263.0 69.0h.9M236.0 83.1h.9M249.9 98.1h.9M208.5 68.1h.9M251.4 70.2h.9M247.1 78.9h.9M244.3 88.7h.9M230.5 86.5h.9M257.6 84.5h.9M250.9 73.6h.9M258.2 84.9h.9M250.6 69.2h.9M261.1 73.2h.9M256.4 70.9h.9M263.4 70.8h.9M254.6 85.7h.9M245.9 79.6h.9M252.7 78.4h.9M231.8 86.5h.9M260.2 81.9h.9M252.1 106.5h.9M261.0 76.9h.9M256.0 74.0h.9M261.0 68.4h.9M237.1 69.5h.9M262.1 76.5h.9M216.2 78.3h.9M254.6 82.2h.9M257.8 76.2h.9M253.9 78.5h.9M249.5 72.1h.9M261.4 73.8h.9M214.2 89.1h.9M246.0 100.5h.9M262.1 70.1h.9M261.8 77.2h.9M247.8 88.7h.9M261.4 68.3h.9M257.5 76.5h.9M210.2 70.9h.9M262.3 70.2h.9M230.3 125.9h.9M259.1 68.7h.9M230.1 88.4h.9M212.6 81.2h.9M231.5 77.1h.9M250.7 74.1h.9M247.8 72.7h.9M253.9 73.2h.9M258.5 76.2h.9M259.2 84.5h.9M257.6 70.0h.9M251.4 68.9h.9M255.7 93.7h.9M257.6 106.0h.9M258.6 67.9h.9M263.3 94.5h.9M252.3 87.5h.9M260.0 68.3h.9M228.9 75.4h.9M255.8 73.0h.9M258.4 78.5h.9M242.3 69.6h.9M249.3 71.8h.9M263.2 81.2h.9M260.8 85.4h.9M254.4 96.6h.9M238.5 69.3h.9M234.0 70.4h.9M259.9 74.3h.9M256.9 77.3h.9M263.1 74.0h.9M260.2 69.0h.9M228.4 97.8h.9M239.3 75.0h.9M231.9 68.7h.9M248.1 79.9h.9M250.4 70.3h.9M262.8 80.6h.9M217.4 73.7h.9M253.7 81.0h.9M260.9 92.1h.9M232.7 73.1h.9M241.1 83.1h.9M261.7 132.2h.9M230.9 84.6h.9M225.6 98.5h.9M256.4 78.2h.9M260.6 75.0h.9M240.8 93.3h.9M257.3 103.6h.9M253.5 96.6h.9M260.5 83.0h.9M261.2 76.3h.9M222.6 76.5h.9M255.4 112.2h.9M249.5 93.2h.9M226.8 74.0h.9M252.4 86.8h.9M254.5 72.0h.9M262.7 135.6h.9M248.9 97.0h.9M235.3 79.3h.9M246.1 85.2h.9M248.1 87.3h.9M250.7 83.3h.9M253.3 72.0h.9M249.9 68.9h.9M251.6 72.2h.9M253.3 96.2h.9M257.4 95.3h.9M257.3 97.6h.9M253.6 76.6h.9M228.0 79.1h.9M226.9 85.3h.9M260.8 71.4h.9M259.5 74.4h.9M256.1 109.3h.9M244.7 80.2h.9M259.7 73.2h.9M252.1 72.9h.9M250.7 68.7h.9M247.9 83.2h.9M262.8 79.8h.9M237.0 86.6h.9M256.3 71.9h.9M241.0 136.1h.9M256.4 68.0h.9M218.5 68.2h.9M259.0 68.6h.9M255.2 85.0h.9M240.7 81.2h.9M248.3 114.6h.9M237.9 73.8h.9M244.6 86.6h.9M253.7 73.2h.9M224.9 83.7h.9M250.2 80.2h.9M261.2 73.5h.9M257.1 93.8h.9M260.1 69.5h.9M251.6 90.4h.9M262.5 69.8h.9M246.1 96.1h.9M243.7 81.1h.9M246.9 71.9h.9M257.3 71.3h.9M260.5 75.4h.9M228.3 72.7h.9M263.2 70.8h.9M255.2 120.1h.9M240.1 78.4h.9M226.5 115.7h.9M246.3 71.3h.9M242.0 60.3h.9M251.9 60.5h.9M207.5 59.7h.9M207.6 66.6h.9M257.9 63.1h.9M262.5 61.4h.9M259.9 52.6h.9M242.7 64.6h.9M209.4 66.5h.9M207.9 66.5h.9M240.9 60.2h.9M262.1 64.2h.9M223.7 66.8h.9M257.0 63.9h.9M258.3 52.7h.9M254.0 65.5h.9M234.0 65.6h.9M257.2 62.5h.9M255.7 66.8h.9M262.0 61.7h.9M247.2 54.4h.9M262.5 62.8h.9M236.3 55.3h.9M262.5 66.9h.9M241.7 66.1h.9M256.0 67.0h.9M257.7 56.8h.9M217.4 60.2h.9M253.5 66.4h.9M253.5 64.2h.9M233.6 139.4h.9M218.2 118.0h.9M218.0 123.6h.9M210.4 133.8h.9M206.1 135.4h.9M216.4 100.5h.9M229.6 116.7h.9M248.0 140.5h.9M225.4 112.6h.9M207.3 107.5h.9M203.5 147.5h.9M254.9 169.9h.9M271.1 131.3h.9M202.1 122.7h.9M218.7 152.4h.9M273.4 115.4h.9M323.9 184.7h.9M215.6 173.4h.9M220.9 126.1h.9M219.5 153.6h.9M205.1 162.0h.9M251.9 114.1h.9M242.2 179.5h.9M201.5 145.8h.9M213.0 106.9h.9M254.8 110.3h.9M210.9 171.1h.9M214.5 142.8h.9M234.6 103.5h.9M208.7 110.1h.9M223.1 121.5h.9M222.5 125.4h.9M259.2 111.2h.9M214.3 123.0h.9M278.8 120.3h.9M218.9 151.4h.9M227.8 109.2h.9M214.2 139.4h.9M247.4 134.6h.9M226.0 113.7h.9M250.7 112.3h.9M227.4 120.1h.9M262.2 103.5h.9M207.6 121.1h.9M209.1 112.5h.9M210.2 156.5h.9M226.8 149.3h.9M201.4 111.7h.9M227.3 101.2h.9M220.3 112.2h.9M214.0 139.0h.9M212.0 124.0h.9M203.6 103.8h.9M214.1 111.9h.9M266.2 137.7h.9M206.8 110.0h.9M231.1 148.8h.9M212.9 106.7h.9M243.1 128.2h.9M249.2 138.2h.9M205.5 122.4h.9M206.9 104.8h.9M201.7 127.3h.9M211.1 121.5h.9M243.0 102.7h.9M202.3 184.5h.9M246.0 112.4h.9M250.4 172.4h.9M203.9 118.3h.9M213.5 123.4h.9M213.0 138.6h.9M239.8 127.6h.9M209.2 149.7h.9M223.4 148.6h.9M210.9 108.4h.9M232.6 124.8h.9M206.6 102.9h.9M248.6 138.8h.9M208.9 101.7h.9M212.5 164.8h.9M203.8 106.5h.9M205.6 139.5h.9M282.5 126.6h.9M262.7 129.8h.9M203.6 118.6h.9M232.8 135.3h.9M260.4 124.3h.9M250.4 105.0h.9M203.6 137.0h.9M205.9 127.4h.9M255.5 121.7h.9M202.6 110.6h.9M268.8 144.9h.9M279.9 144.5h.9M208.8 166.3h.9M287.4 116.3h.9M236.8 124.9h.9M201.8 133.4h.9M257.1 113.7h.9M224.3 175.4h.9M201.6 122.9h.9M216.3 119.0h.9M236.4 118.2h.9M210.8 105.9h.9M206.7 102.3h.9M209.6 184.1h.9M300.4 156.6h.9M251.8 106.6h.9M201.5 188.4h.9M214.1 131.0h.9M205.7 125.5h.9M212.0 105.4h.9M206.8 106.5h.9M251.3 125.8h.9M214.1 103.8h.9M205.7 168.0h.9M225.0 122.0h.9M207.4 109.1h.9M259.7 115.6h.9M301.3 118.8h.9M228.3 106.1h.9M247.1 105.1h.9M220.3 108.6h.9M245.6 170.2h.9M210.7 135.8h.9M209.2 139.3h.9M211.5 124.7h.9M214.8 109.7h.9M221.3 103.3h.9M208.9 176.8h.9M201.5 145.6h.9M219.6 144.5h.9M239.6 145.3h.9M269.1 104.9h.9M211.5 117.9h.9M259.0 131.0h.9M223.0 101.5h.9M234.3 104.3h.9M217.6 128.9h.9M220.9 105.4h.9M228.9 111.3h.9M222.6 106.2h.9M213.2 128.6h.9M280.3 124.9h.9M206.9 119.1h.9M202.3 152.5h.9M204.0 124.6h.9M228.5 118.4h.9M269.3 132.9h.9M205.6 118.9h.9M293.2 111.2h.9M258.6 103.6h.9M241.1 103.2h.9M218.9 134.8h.9M226.3 102.9h.9M303.9 109.5h.9M227.5 135.1h.9M284.9 124.7h.9M240.1 115.9h.9M271.3 120.1h.9M205.0 116.6h.9M210.9 102.4h.9M227.2 103.5h.9M203.8 145.0h.9M222.0 133.8h.9M202.1 128.4h.9M255.6 104.7h.9M245.0 114.4h.9M204.0 158.1h.9M209.5 141.5h.9M204.5 113.5h.9M227.7 162.7h.9M217.0 126.4h.9M216.5 174.8h.9M249.0 107.5h.9M263.7 128.8h.9M203.7 128.7h.9M201.7 102.8h.9M291.9 150.0h.9M226.3 109.7h.9M205.2 113.8h.9M214.7 152.2h.9M234.4 159.7h.9M225.2 105.2h.9M201.5 130.7h.9M208.7 181.3h.9M235.6 146.0h.9M212.5 127.4h.9M229.9 134.6h.9M206.6 143.6h.9M262.5 102.7h.9M213.2 118.1h.9M218.9 115.3h.9M201.9 138.8h.9M201.1 105.1h.9M223.7 102.6h.9M211.5 156.6h.9M210.0 108.2h.9M208.3 120.2h.9M203.4 108.4h.9M245.9 101.2h.9M228.9 102.0h.9M228.7 103.8h.9M205.7 108.4h.9M249.1 129.9h.9M202.6 159.8h.9M288.3 154.0h.9M233.1 122.7h.9M218.3 181.3h.9M286.9 164.7h.9M212.5 125.8h.9M248.0 108.3h.9M312.4 116.6h.9M209.9 108.1h.9M208.6 150.4h.9M223.0 113.4h.9M223.1 113.4h.9M239.1 102.2h.9M233.2 101.5h.9M202.9 115.6h.9M218.8 137.5h.9M222.2 112.4h.9M214.9 141.4h.9M250.6 114.3h.9M216.4 116.5h.9M262.3 145.7h.9M276.9 149.3h.9M219.1 112.5h.9M241.4 130.0h.9M224.0 131.1h.9M201.7 115.0h.9M267.7 122.0h.9M211.0 110.4h.9M223.0 131.2h.9M202.8 113.7h.9M201.4 129.5h.9M210.2 118.5h.9M257.8 105.6h.9M276.0 124.1h.9M346.9 106.7h.9M222.9 104.1h.9M263.7 126.1h.9M218.7 103.6h.9M205.8 122.8h.9M226.2 110.7h.9M205.4 125.4h.9M208.5 170.6h.9M239.9 158.7h.9M235.0 119.2h.9M208.6 102.8h.9M235.5 121.8h.9M226.4 119.3h.9M217.3 104.1h.9M217.2 156.6h.9M233.6 104.2h.9M216.9 117.7h.9M203.3 117.7h.9M220.3 117.3h.9M204.8 122.7h.9M217.7 121.8h.9M226.2 113.3h.9M248.0 101.1h.9M222.5 109.4h.9M210.9 135.1h.9M217.2 143.9h.9M206.4 100.4h.9M224.5 126.2h.9M208.3 153.7h.9M244.9 119.2h.9M204.2 105.0h.9M218.9 128.1h.9M201.4 127.4h.9M214.9 108.1h.9M222.0 130.7h.9M228.6 139.4h.9M219.8 127.6h.9M231.6 164.3h.9M240.8 129.8h.9M237.0 101.7h.9M203.0 103.3h.9M247.1 133.7h.9M220.4 128.2h.9M206.2 148.9h.9M225.8 169.7h.9M220.4 136.7h.9M206.2 106.3h.9M212.4 112.1h.9M203.6 102.9h.9M211.9 127.7h.9M201.3 139.3h.9M218.0 104.2h.9M265.4 140.6h.9M210.0 112.6h.9M228.6 135.0h.9M215.0 129.6h.9M335.5 122.8h.9M249.3 129.9h.9M284.4 126.2h.9M234.9 117.7h.9M247.8 138.4h.9M209.6 118.2h.9M219.1 118.6h.9M215.8 101.3h.9M209.6 127.7h.9M218.8 105.0h.9M225.5 121.4h.9M262.6 112.9h.9M273.4 116.3h.9M265.6 119.2h.9M269.4 103.8h.9M279.4 106.4h.9M274.0 99.5h.9M288.3 110.0h.9M273.0 101.8h.9M287.2 99.8h.9M280.7 105.4h.9M295.5 100.4h.9M270.3 105.4h.9M269.3 109.8h.9M283.2 100.9h.9M265.1 102.7h.9M265.6 101.7h.9M272.7 114.6h.9M274.0 99.6h.9M256.3 106.7h.9M272.8 112.3h.9M267.2 102.1h.9M270.0 104.8h.9M272.1 101.3h.9M268.4 106.1h.9M281.0 102.4h.9M275.2 102.6h.9M268.5 103.8h.9M271.2 110.7h.9M280.7 113.9h.9M278.2 110.6h.9M283.0 109.5h.9M269.1 107.0h.9M271.8 108.3h.9M290.5 100.9h.9M270.1 106.6h.9M287.2 99.4h.9M278.9 113.8h.9M266.2 102.0h.9M256.6 111.6h.9M276.8 109.3h.9M263.5 105.6h.9M263.5 101.8h.9M253.3 104.7h.9M282.3 108.6h.9M271.6 101.2h.9M270.8 99.9h.9M274.5 110.0h.9M273.0 100.2h.9M271.5 100.2h.9M275.7 103.1h.9M267.8 102.5h.9M244.9 100.2h.9M277.9 104.9h.9M274.8 99.7h.9M270.8 99.1h.9M286.4 104.6h.9M256.7 103.5h.9M241.8 102.8h.9M285.4 99.2h.9M274.7 100.4h.9M254.3 112.0h.9M266.5 99.9h.9M276.7 107.4h.9M258.5 105.3h.9M276.1 100.0h.9M291.6 102.2h.9M284.4 106.2h.9M270.3 109.9h.9M273.8 105.2h.9M261.2 112.2h.9M271.9 102.2h.9M267.3 104.6h.9M260.7 104.3h.9M257.3 108.1h.9M289.8 102.0h.9M271.5 103.4h.9M260.4 105.1h.9M266.4 114.4h.9M285.4 103.6h.9M286.7 104.8h.9M264.5 100.5h.9M272.5 118.5h.9M279.4 113.8h.9M267.2 99.6h.9M258.9 106.9h.9M260.9 116.4h.9M270.7 100.6h.9M262.9 112.7h.9M257.7 114.8h.9M268.2 104.6h.9M279.8 100.2h.9M277.4 104.0h.9M268.3 107.0h.9M289.5 104.3h.9M262.8 103.2h.9M269.8 122.0h.9M257.0 103.9h.9M278.3 102.2h.9M269.3 102.5h.9M253.9 103.5h.9M262.3 99.7h.9M288.4 105.5h.9M277.7 106.0h.9M271.7 104.9h.9M279.1 123.2h.9M254.7 111.5h.9M262.3 109.9h.9M257.4 110.6h.9M262.3 107.7h.9M266.7 104.1h.9M275.8 107.9h.9M280.5 99.7h.9M280.2 106.6h.9M297.2 111.8h.9M265.6 101.0h.9M270.3 105.9h.9M275.6 102.2h.9M262.3 112.6h.9M267.7 104.6h.9M274.6 100.3h.9M261.7 108.8h.9M275.2 115.2h.9M282.7 104.8h.9M259.4 101.3h.9M247.8 108.4h.9M271.3 108.9h.9M260.2 118.2h.9M272.2 99.0h.9M266.0 103.2h.9M273.5 112.5h.9M281.7 126.2h.9M278.6 109.3h.9M266.9 99.4h.9M258.8 107.4h.9M245.8 101.4h.9M248.9 100.6h.9M262.5 105.7h.9M271.4 106.5h.9M263.7 116.6h.9M264.4 99.3h.9M340.6 124.6h.9M256.3 94.9h.9M246.4 164.4h.9M320.0 131.7h.9M280.1 47.7h.9M222.4 173.6h.9M332.9 124.1h.9M287.2 78.6h.9" stroke="#000" stroke-opacity=".7" stroke-width=".95" fill="none"/>
<path d="M262.2 46.3V106" stroke="#4a4a4a" stroke-width="1.2" fill="none"/>
<path d="M297 77.8H328.4" stroke="#585858" stroke-width="1.2" fill="none"/>
<g stroke="#858585" stroke-width="1.05" fill="none">
<path d="M197.2 36.3H358.6M200.7 36.3V194.5M197.2 191.5H358.6"/>
<path d="M358.6 36.3V194.5" stroke="#5a5a5a"/>
<path d="M212.6 191.5v1.8M200.7 179.8h-1.8M219.5 191.5v1.8M200.7 173.0h-1.8M224.5 191.5v1.8M200.7 168.1h-1.8M228.3 191.5v1.8M200.7 164.4h-1.8M231.4 191.5v1.8M200.7 161.3h-1.8M234.1 191.5v1.8M200.7 158.7h-1.8M236.3 191.5v1.8M200.7 156.5h-1.8M238.4 191.5v1.8M200.7 154.5h-1.8M252.1 191.5v1.8M200.7 141.0h-1.8M259.0 191.5v1.8M200.7 134.2h-1.8M263.9 191.5v1.8M200.7 129.3h-1.8M267.8 191.5v1.8M200.7 125.6h-1.8M270.9 191.5v1.8M200.7 122.5h-1.8M273.5 191.5v1.8M200.7 119.9h-1.8M275.8 191.5v1.8M200.7 117.7h-1.8M277.8 191.5v1.8M200.7 115.7h-1.8M291.5 191.5v1.8M200.7 102.2h-1.8M298.5 191.5v1.8M200.7 95.4h-1.8M303.4 191.5v1.8M200.7 90.5h-1.8M307.2 191.5v1.8M200.7 86.8h-1.8M310.4 191.5v1.8M200.7 83.7h-1.8M313.0 191.5v1.8M200.7 81.1h-1.8M315.3 191.5v1.8M200.7 78.9h-1.8M317.3 191.5v1.8M200.7 76.9h-1.8M331.0 191.5v1.8M200.7 63.4h-1.8M338.0 191.5v1.8M200.7 56.6h-1.8M342.9 191.5v1.8M200.7 51.7h-1.8M346.7 191.5v1.8M200.7 48.0h-1.8M349.8 191.5v1.8M200.7 44.9h-1.8M352.5 191.5v1.8M200.7 42.3h-1.8M354.8 191.5v1.8M200.7 40.1h-1.8M356.8 191.5v1.8M200.7 38.1h-1.8M200.7 191.5v3.5M200.7 191.5h-3.5M240.2 191.5v3.5M200.7 152.7h-3.5M279.6 191.5v3.5M200.7 113.9h-3.5M319.1 191.5v3.5M200.7 75.1h-3.5M358.6 191.5v3.5M200.7 36.3h-3.5" stroke-width="1" stroke="#5a5a5a"/>
</g>
<text x="201.3" y="53.5" font-size="14.6">R2</text>
<text x="201.9" y="112.9" font-size="14.6">R1</text>
<text x="331.3" y="53.3" font-size="14.6">R3</text>
<text x="331.3" y="95.7" font-size="14.6">R4</text>
<text x="331.3" y="139.5" font-size="14.6">R5</text>
<text x="186.9" y="211.3" font-size="14.8">10<tspan dy="-5.6" dx=".3" font-size="12.6">0</tspan></text>
<text x="170.6" y="197.5" font-size="14.8">10<tspan dy="-5.6" dx=".3" font-size="12.6">0</tspan></text>
<text x="227.6" y="211.3" font-size="14.8">10<tspan dy="-5.6" dx=".3" font-size="12.6">1</tspan></text>
<text x="170.6" y="158.7" font-size="14.8">10<tspan dy="-5.6" dx=".3" font-size="12.6">1</tspan></text>
<text x="267.5" y="211.3" font-size="14.8">10<tspan dy="-5.6" dx=".3" font-size="12.6">2</tspan></text>
<text x="170.6" y="119.9" font-size="14.8">10<tspan dy="-5.6" dx=".3" font-size="12.6">2</tspan></text>
<text x="306.6" y="211.3" font-size="14.8">10<tspan dy="-5.6" dx=".3" font-size="12.6">3</tspan></text>
<text x="170.6" y="81.1" font-size="14.8">10<tspan dy="-5.6" dx=".3" font-size="12.6">3</tspan></text>
<text x="345.6" y="211.3" font-size="14.8">10<tspan dy="-5.6" dx=".3" font-size="12.6">4</tspan></text>
<text x="170.6" y="42.3" font-size="14.8">10<tspan dy="-5.6" dx=".3" font-size="12.6">4</tspan></text>
<text x="215" y="229.3" font-size="16">FL2-H: Ter119-PE</text>
<text transform="translate(164.5 180) rotate(-90)" font-size="16.1">FL1-H: CD71 FITC</text>
<g stroke="#0c0c0c" stroke-width="1.25">
<rect x="59.50" y="423.75" width="12.6" height="90.85" fill="#fff"/>
<rect x="72.10" y="432.25" width="12.6" height="82.35" fill="#fff"/>
<rect x="84.70" y="481" width="12.6" height="33.60" fill="#858585"/>
<rect x="97.30" y="394.5" width="12.6" height="120.10" fill="#cbcbcb"/>
<rect x="109.90" y="429.5" width="12.6" height="85.10" fill="#fff"/>
<rect x="122.50" y="440" width="12.6" height="74.60" fill="#fff"/>
<path d="M65.80 353.25V494.25M62.20 353.25h7.2M62.20 494.25h7.2M78.40 378.75V486.25M74.80 378.75h7.2M74.80 486.25h7.2M103.60 345V444.5M100.00 345h7.2M100.00 444.5h7.2M116.20 392.5V467.25M112.60 392.5h7.2M112.60 467.25h7.2M128.80 418V463M125.20 418h7.2M125.20 463h7.2" fill="none"/>
<rect x="246.50" y="421.25" width="12.6" height="93.35" fill="#fff"/>
<rect x="259.10" y="411.25" width="12.6" height="103.35" fill="#fff"/>
<rect x="271.70" y="378.75" width="12.6" height="135.85" fill="#858585"/>
<rect x="284.30" y="479.75" width="12.6" height="34.85" fill="#cbcbcb"/>
<rect x="296.90" y="449.75" width="12.6" height="64.85" fill="#111"/>
<rect x="309.50" y="439.75" width="12.6" height="74.85" fill="#8e8e8e"/>
<path d="M252.80 373V470M249.20 373h7.2M249.20 470h7.2M265.40 359.25V463M261.80 359.25h7.2M261.80 463h7.2M290.60 447.5V511.25M287.00 447.5h7.2M287.00 511.25h7.2M303.20 423V476M299.60 423h7.2M299.60 476h7.2M315.80 402V478M312.20 402h7.2M312.20 478h7.2" fill="none"/>
<rect x="340.60" y="385.25" width="12.6" height="129.35" fill="#fff"/>
<rect x="353.20" y="391.75" width="12.6" height="122.85" fill="#fff"/>
<rect x="365.80" y="365" width="12.6" height="149.60" fill="#858585"/>
<rect x="378.40" y="380" width="12.6" height="134.60" fill="#cbcbcb"/>
<rect x="391.00" y="355" width="12.6" height="159.60" fill="#fff"/>
<rect x="403.60" y="375" width="12.6" height="139.60" fill="#8e8e8e"/>
<path d="M346.90 337.5V432.5M343.30 337.5h7.2M343.30 432.5h7.2M359.50 361.75V421.5M355.90 361.75h7.2M355.90 421.5h7.2M384.70 318.75V441.75M381.10 318.75h7.2M381.10 441.75h7.2M397.30 310V399.5M393.70 310h7.2M393.70 399.5h7.2M409.90 340V410M406.30 340h7.2M406.30 410h7.2" fill="none"/>
<rect x="433.60" y="503.6" width="12.6" height="11.00" fill="#fff"/>
<rect x="446.20" y="504.2" width="12.6" height="10.40" fill="#111"/>
<rect x="458.80" y="502.6" width="12.6" height="12.00" fill="#8e8e8e"/>
<rect x="471.40" y="491.7" width="12.6" height="22.90" fill="#cbcbcb"/>
<rect x="484.00" y="506" width="12.6" height="8.60" fill="#fff"/>
<rect x="496.60" y="507.4" width="12.6" height="7.20" fill="#8e8e8e"/>
<path d="M439.90 501.3V505.7M436.30 501.3h7.2M436.30 505.7h7.2M452.50 502V506M448.90 502h7.2M448.90 506h7.2M477.70 476.7V507.4M474.10 476.7h7.2M474.10 507.4h7.2M490.30 500V511.7M486.70 500h7.2M486.70 511.7h7.2M502.90 502.6V511.7M499.30 502.6h7.2M499.30 511.7h7.2" fill="none"/>
<path d="M152.6 512H178V513H203.4V512H228.4V514.3H152.6Z" fill="#111" stroke-width=".8"/>
<path d="M155.5 511.3h7M167 511.1h8.5M206 511.2h7.5M218 511.4h8" stroke-width="1.1"/>
</g>
<g stroke="#7a7a7a" stroke-width="1.1" fill="none">
<path d="M50.3 287.5V514.6H519"/>
<path d="M50.3 514.6v3.5M143.8 514.6v3.5M237.3 514.6v3.5M330.8 514.6v3.5M424.3 514.6v3.5M517.8 514.6v3.5M50.3 514.6h-3.5M50.3 476.8h-3.5M50.3 438.9h-3.5M50.3 401.1h-3.5M50.3 363.2h-3.5M50.3 325.4h-3.5M50.3 287.5h-3.5"/>
</g>
<text x="32.3" y="521.8" font-size="18.2" textLength="10.5" lengthAdjust="spacingAndGlyphs">0</text>
<text x="21.8" y="483.9" font-size="18.2" textLength="21" lengthAdjust="spacingAndGlyphs">10</text>
<text x="21.8" y="446.1" font-size="18.2" textLength="21" lengthAdjust="spacingAndGlyphs">20</text>
<text x="21.8" y="408.2" font-size="18.2" textLength="21" lengthAdjust="spacingAndGlyphs">30</text>
<text x="21.8" y="370.4" font-size="18.2" textLength="21" lengthAdjust="spacingAndGlyphs">40</text>
<text x="21.8" y="332.6" font-size="18.2" textLength="21" lengthAdjust="spacingAndGlyphs">50</text>
<text x="21.8" y="294.7" font-size="18.2" textLength="21" lengthAdjust="spacingAndGlyphs">60</text>
<text x="96" y="540.6" font-size="17" text-anchor="middle">R1</text>
<text x="190.75" y="540.6" font-size="17" text-anchor="middle">R2</text>
<text x="285" y="540.6" font-size="17" text-anchor="middle">R3</text>
<text x="378.4" y="540.6" font-size="17" text-anchor="middle">R4</text>
<text x="472.3" y="540.6" font-size="17" text-anchor="middle">R5</text>
<text transform="translate(15.3 462.5) rotate(-90)" font-size="16" font-weight="bold" stroke="none">% Positive Cells</text>
</g>
<g font-family="'Liberation Serif', 'Times New Roman', serif" font-size="11.9" fill="#111" stroke="#111" stroke-width=".2">
<rect x="81.1" y="292.6" width="5.8" height="5.8" fill="#fff" stroke="#111" stroke-width="1.25"/>
<text x="90.2" y="298.8">c-Mpl+/+Kit+/+</text>
<rect x="81.1" y="312.2" width="5.8" height="5.8" fill="#111" stroke="#111" stroke-width="1.25"/>
<text x="90.2" y="318.4">c-Mpl+/+KitWv/+</text>
<rect x="81.1" y="332.0" width="5.8" height="5.8" fill="#999" stroke="#111" stroke-width="1.25"/>
<text x="90.2" y="338.3">c-Mpl+/+KitWv/Wv</text>
<rect x="209.7" y="292.6" width="5.8" height="5.8" fill="#c4c4c4" stroke="#111" stroke-width="1.25"/>
<text x="218.6" y="298.8" word-spacing="-2.6">c-Mpl-/- Kit+/+</text>
<rect x="209.7" y="312.2" width="5.8" height="5.8" fill="#fff" stroke="#111" stroke-width="1.25"/>
<text x="218.6" y="318.4" word-spacing="-2.6">c-Mpl-/- KitWv/+</text>
<rect x="209.7" y="332.0" width="5.8" height="5.8" fill="#7c7c7c" stroke="#111" stroke-width="1.25"/>
<text x="218.6" y="338.3" word-spacing="-2.6">c-Mpl-/- KitWv/Wv</text>
</g>
</svg>
</body></html>
